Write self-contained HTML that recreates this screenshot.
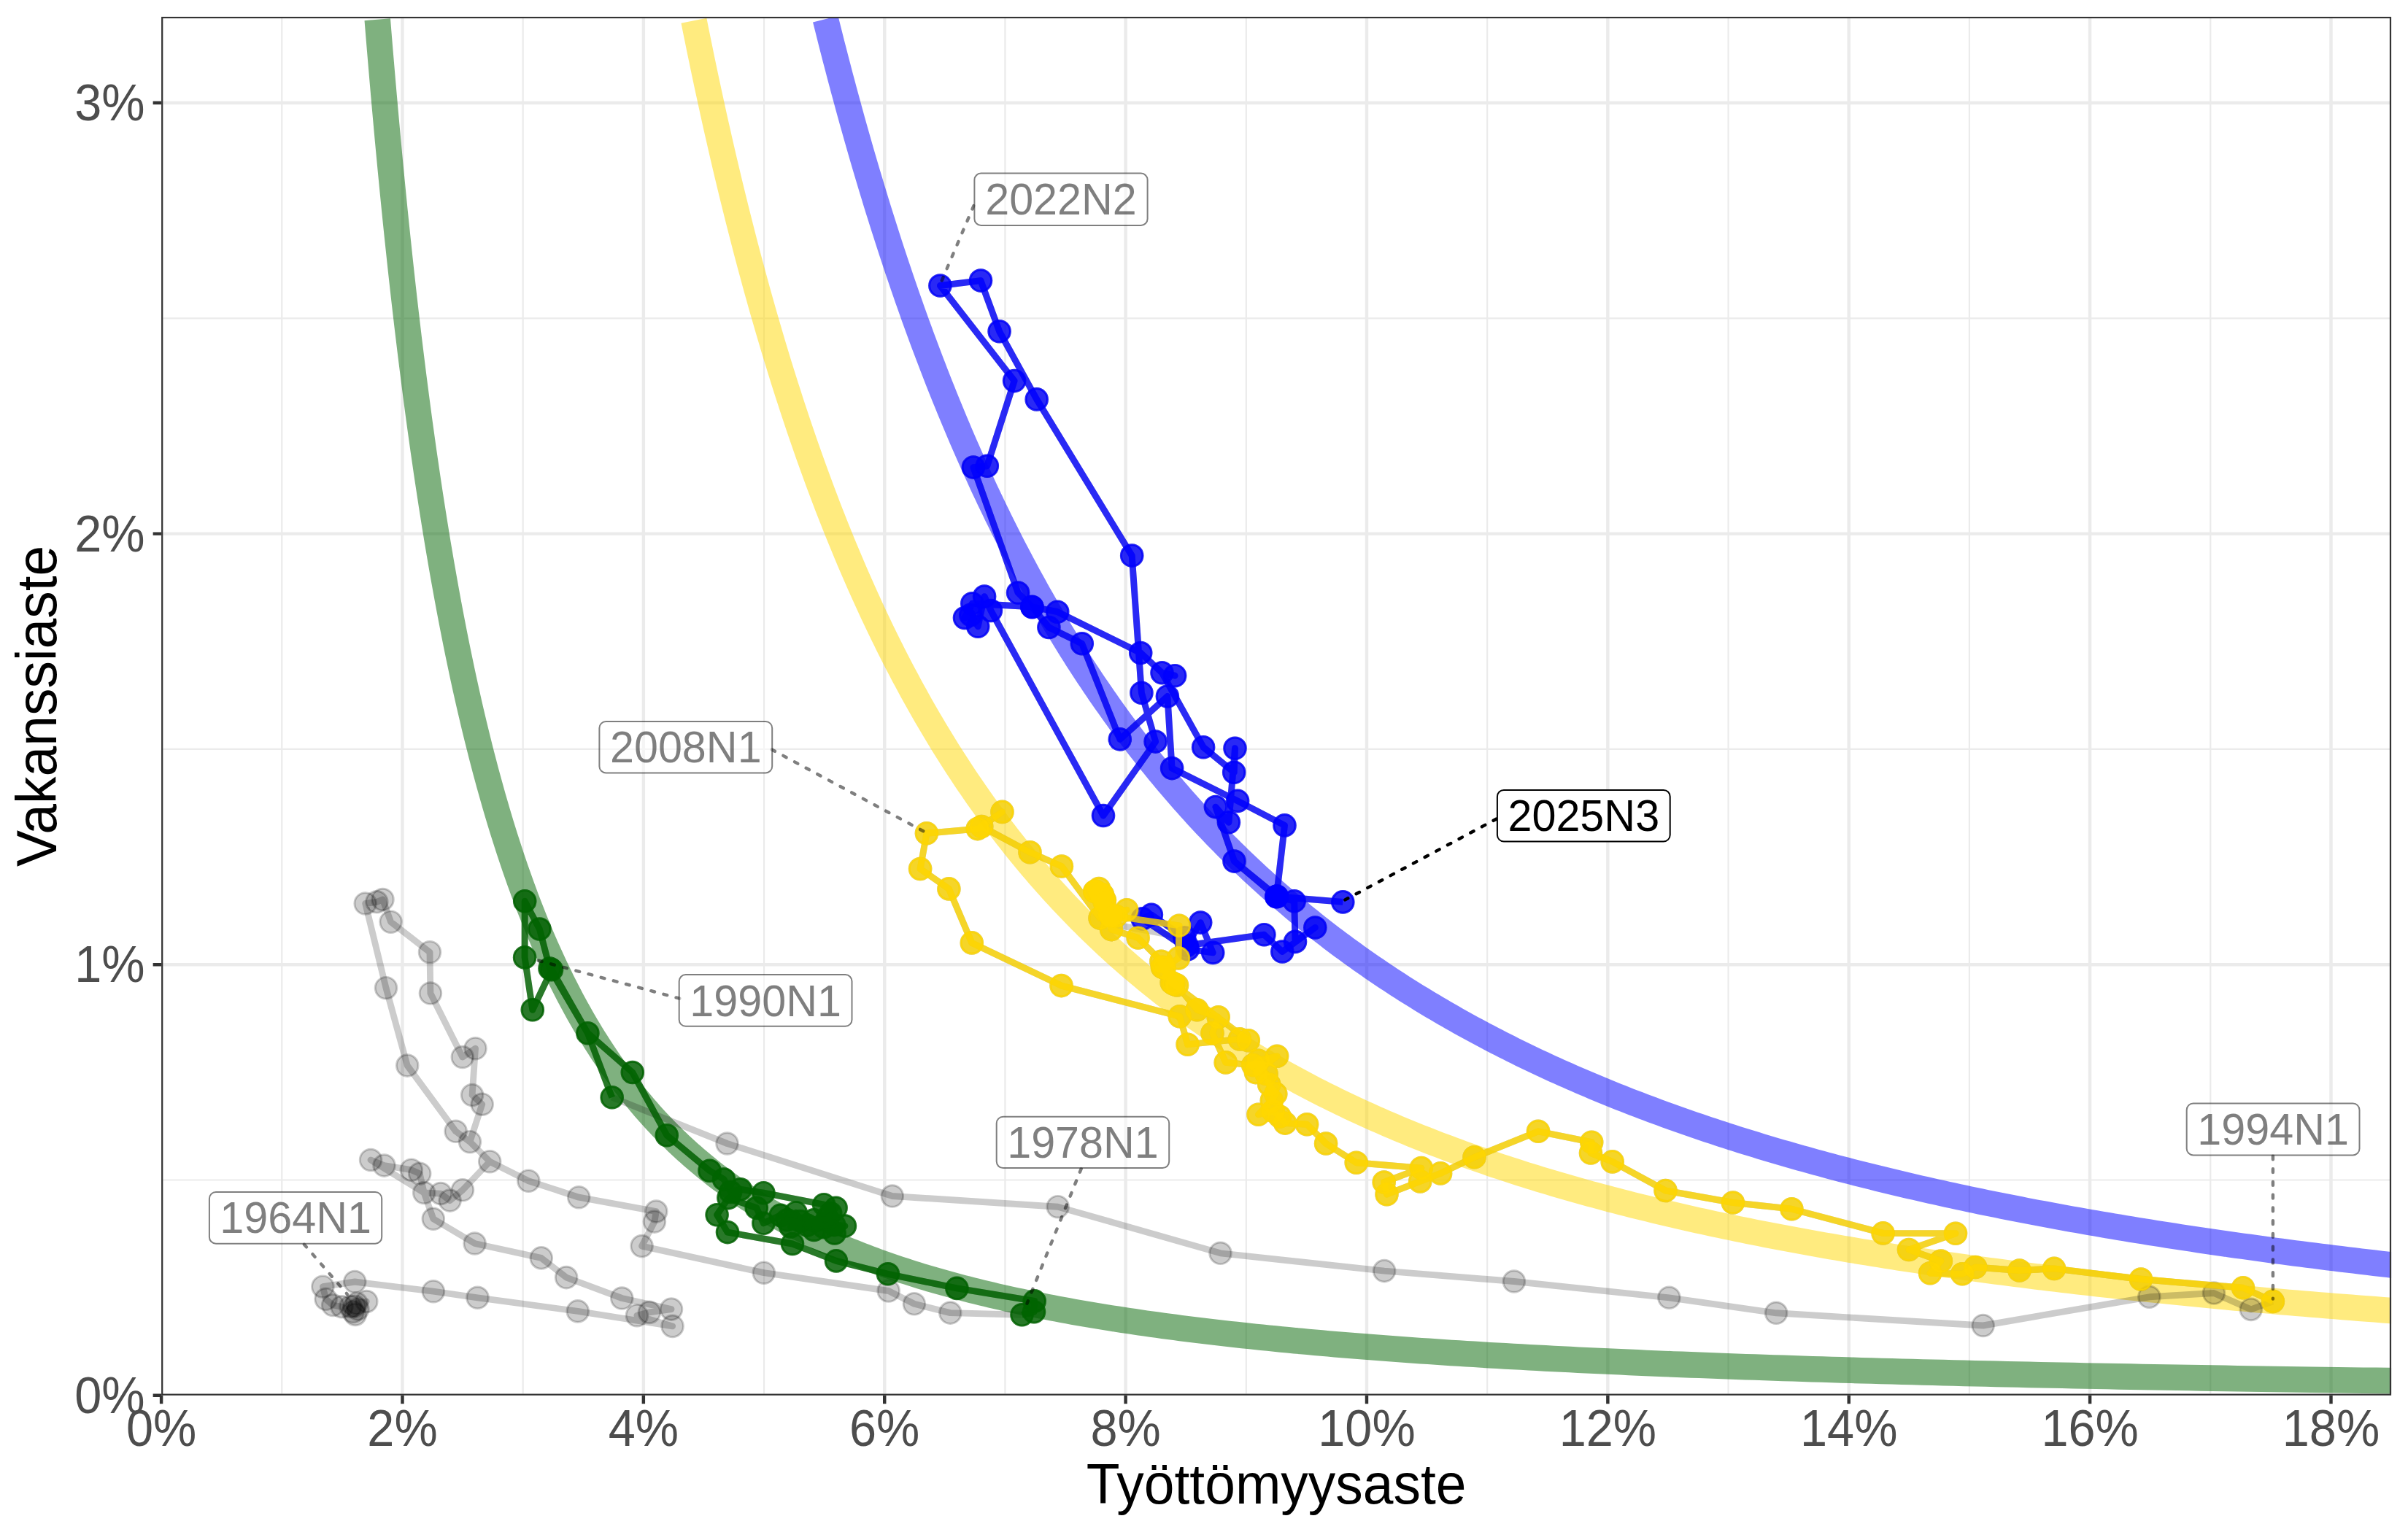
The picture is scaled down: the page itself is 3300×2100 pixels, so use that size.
<!DOCTYPE html>
<html lang="fi"><head><meta charset="utf-8"><title>Beveridge-käyrä</title>
<style>
html,body{margin:0;padding:0;background:#fff;}
body{width:3300px;height:2100px;overflow:hidden;}
svg{display:block;}
text{font-family:"Liberation Sans",sans-serif;}
.tick{font-size:66.67px;fill:#4D4D4D;}
.title{font-size:75px;fill:#000;}
.lab{font-size:59.3px;}
</style></head><body>
<svg width="3300" height="2100" viewBox="0 0 3300 2100">
<rect x="0" y="0" width="3300" height="2100" fill="#fff"/>
<defs><clipPath id="panel"><rect x="221.1" y="22.92" width="3055.98" height="1889.88"/></clipPath></defs>
<g clip-path="url(#panel)">
<path d="M221.1,1617.51 H3277.08 M221.1,1026.92 H3277.08 M221.1,436.33 H3277.08 M386.29,22.92 V1912.8 M716.66,22.92 V1912.8 M1047.04,22.92 V1912.8 M1377.42,22.92 V1912.8 M1707.79,22.92 V1912.8 M2038.17,22.92 V1912.8 M2368.55,22.92 V1912.8 M2698.92,22.92 V1912.8 M3029.30,22.92 V1912.8" stroke="#EBEBEB" stroke-width="2.22" fill="none"/>
<path d="M221.1,1912.80 H3277.08 M221.1,1322.21 H3277.08 M221.1,731.62 H3277.08 M221.1,141.04 H3277.08 M221.10,22.92 V1912.8 M551.48,22.92 V1912.8 M881.85,22.92 V1912.8 M1212.23,22.92 V1912.8 M1542.60,22.92 V1912.8 M1872.98,22.92 V1912.8 M2203.36,22.92 V1912.8 M2533.73,22.92 V1912.8 M2864.11,22.92 V1912.8 M3194.49,22.92 V1912.8" stroke="#EBEBEB" stroke-width="4.44" fill="none"/>
<path d="M517.25,26.76 L518.99,48.19 L520.75,69.38 L522.52,90.33 L524.29,111.05 L526.08,131.52 L527.88,151.77 L529.69,171.78 L531.50,191.57 L533.33,211.13 L535.17,230.47 L537.03,249.59 L538.89,268.49 L540.76,287.18 L542.64,305.65 L544.54,323.92 L546.45,341.97 L548.36,359.83 L550.29,377.48 L552.23,394.92 L554.18,412.17 L556.15,429.23 L558.12,446.09 L560.11,462.76 L562.11,479.24 L564.12,495.53 L566.14,511.64 L568.17,527.56 L570.22,543.30 L572.27,558.87 L574.34,574.26 L576.43,589.47 L578.52,604.51 L580.63,619.38 L582.75,634.07 L584.88,648.61 L587.02,662.97 L589.18,677.18 L591.35,691.22 L593.53,705.10 L595.73,718.83 L597.93,732.40 L600.15,745.81 L602.39,759.08 L604.64,772.19 L606.90,785.15 L609.17,797.97 L611.46,810.64 L613.76,823.16 L616.07,835.55 L618.40,847.79 L620.74,859.89 L623.10,871.86 L625.47,883.69 L627.85,895.38 L630.25,906.95 L632.66,918.38 L635.08,929.68 L637.52,940.85 L639.98,951.90 L642.45,962.82 L644.93,973.62 L647.43,984.29 L649.94,994.84 L652.47,1005.27 L655.01,1015.59 L657.57,1025.78 L660.14,1035.87 L662.73,1045.83 L665.33,1055.68 L667.95,1065.43 L670.58,1075.06 L673.23,1084.58 L675.90,1093.99 L678.58,1103.29 L681.27,1112.49 L683.99,1121.59 L686.71,1130.58 L689.46,1139.47 L692.22,1148.26 L695.00,1156.95 L697.79,1165.54 L700.60,1174.03 L703.42,1182.43 L706.27,1190.73 L709.13,1198.93 L712.00,1207.05 L714.90,1215.07 L717.81,1223.00 L720.73,1230.84 L723.68,1238.59 L726.64,1246.25 L729.62,1253.83 L732.62,1261.31 L735.63,1268.72 L738.67,1276.04 L741.72,1283.28 L744.78,1290.43 L747.87,1297.50 L750.98,1304.50 L754.10,1311.41 L757.24,1318.24 L760.40,1325.00 L763.58,1331.68 L766.78,1338.29 L769.99,1344.81 L773.23,1351.27 L776.48,1357.65 L779.75,1363.96 L783.05,1370.20 L786.36,1376.36 L789.69,1382.46 L793.04,1388.49 L796.41,1394.45 L799.80,1400.34 L803.21,1406.16 L806.65,1411.92 L810.10,1417.61 L813.57,1423.24 L817.06,1428.80 L820.57,1434.30 L824.11,1439.74 L827.66,1445.12 L831.23,1450.43 L834.83,1455.69 L838.45,1460.88 L842.09,1466.02 L845.75,1471.10 L849.43,1476.12 L853.13,1481.08 L856.86,1485.99 L860.60,1490.84 L864.37,1495.63 L868.16,1500.37 L871.98,1505.06 L875.81,1509.69 L879.67,1514.28 L883.55,1518.80 L887.46,1523.28 L891.39,1527.71 L895.34,1532.09 L899.31,1536.41 L903.31,1540.69 L907.33,1544.92 L911.37,1549.10 L915.44,1553.23 L919.53,1557.32 L923.65,1561.36 L927.79,1565.35 L931.96,1569.30 L936.15,1573.21 L940.36,1577.07 L944.60,1580.88 L948.86,1584.65 L953.15,1588.38 L957.47,1592.07 L961.81,1595.71 L966.17,1599.32 L970.56,1602.88 L974.98,1606.40 L979.43,1609.89 L983.89,1613.33 L988.39,1616.73 L992.91,1620.10 L997.46,1623.42 L1002.04,1626.71 L1006.64,1629.96 L1011.27,1633.18 L1015.93,1636.35 L1020.61,1639.50 L1025.32,1642.60 L1030.06,1645.67 L1034.83,1648.71 L1039.63,1651.71 L1044.45,1654.68 L1049.30,1657.61 L1054.19,1660.51 L1059.10,1663.38 L1064.04,1666.21 L1069.00,1669.02 L1074.00,1671.79 L1079.03,1674.53 L1084.08,1677.23 L1089.17,1679.91 L1094.29,1682.56 L1099.43,1685.17 L1104.61,1687.76 L1109.82,1690.32 L1115.06,1692.85 L1120.32,1695.35 L1125.62,1697.82 L1130.96,1700.26 L1136.32,1702.68 L1141.71,1705.06 L1147.14,1707.43 L1152.60,1709.76 L1158.09,1712.07 L1163.61,1714.35 L1169.16,1716.60 L1174.75,1718.83 L1180.37,1721.04 L1186.03,1723.22 L1191.71,1725.37 L1197.43,1727.50 L1203.19,1729.61 L1208.98,1731.69 L1214.80,1733.75 L1220.65,1735.78 L1226.55,1737.79 L1232.47,1739.78 L1238.43,1741.75 L1244.43,1743.69 L1250.46,1745.62 L1256.53,1747.52 L1262.63,1749.39 L1268.77,1751.25 L1274.94,1753.09 L1281.15,1754.90 L1287.40,1756.70 L1293.69,1758.47 L1300.01,1760.22 L1306.37,1761.96 L1312.76,1763.67 L1319.20,1765.37 L1325.67,1767.04 L1332.18,1768.70 L1338.73,1770.34 L1345.32,1771.96 L1351.94,1773.56 L1358.61,1775.14 L1365.31,1776.70 L1372.06,1778.25 L1378.84,1779.78 L1385.66,1781.29 L1392.53,1782.79 L1399.43,1784.26 L1406.38,1785.72 L1413.36,1787.17 L1420.39,1788.60 L1427.46,1790.01 L1434.57,1791.40 L1441.72,1792.78 L1448.91,1794.15 L1456.15,1795.50 L1463.43,1796.83 L1470.75,1798.15 L1478.12,1799.45 L1485.52,1800.74 L1492.98,1802.01 L1500.47,1803.27 L1508.01,1804.52 L1515.60,1805.75 L1523.23,1806.96 L1530.90,1808.17 L1538.62,1809.35 L1546.39,1810.53 L1554.20,1811.69 L1562.06,1812.84 L1569.96,1813.98 L1577.91,1815.10 L1585.91,1816.21 L1593.95,1817.31 L1602.04,1818.39 L1610.18,1819.47 L1618.37,1820.53 L1626.60,1821.58 L1634.89,1822.61 L1643.22,1823.64 L1651.60,1824.65 L1660.03,1825.65 L1668.51,1826.64 L1677.04,1827.62 L1685.62,1828.59 L1694.26,1829.55 L1702.94,1830.49 L1711.67,1831.43 L1720.46,1832.35 L1729.30,1833.27 L1738.18,1834.17 L1747.13,1835.07 L1756.12,1835.95 L1765.17,1836.82 L1774.27,1837.69 L1783.42,1838.54 L1792.63,1839.38 L1801.89,1840.22 L1811.21,1841.04 L1820.58,1841.86 L1830.01,1842.66 L1839.49,1843.46 L1849.03,1844.25 L1858.62,1845.03 L1868.28,1845.80 L1877.98,1846.56 L1887.75,1847.31 L1897.57,1848.06 L1907.45,1848.79 L1917.39,1849.52 L1927.39,1850.24 L1937.45,1850.95 L1947.56,1851.65 L1957.74,1852.35 L1967.97,1853.04 L1978.27,1853.72 L1988.63,1854.39 L1999.04,1855.05 L2009.52,1855.71 L2020.06,1856.36 L2030.67,1857.00 L2041.33,1857.63 L2052.06,1858.26 L2062.85,1858.88 L2073.71,1859.49 L2084.62,1860.10 L2095.61,1860.70 L2106.66,1861.29 L2117.77,1861.87 L2128.95,1862.45 L2140.19,1863.02 L2151.50,1863.59 L2162.88,1864.15 L2174.33,1864.70 L2185.84,1865.25 L2197.42,1865.79 L2209.07,1866.32 L2220.78,1866.85 L2232.57,1867.37 L2244.42,1867.89 L2256.35,1868.40 L2268.34,1868.91 L2280.41,1869.40 L2292.55,1869.90 L2304.76,1870.38 L2317.04,1870.87 L2329.39,1871.34 L2341.82,1871.81 L2354.32,1872.28 L2366.89,1872.74 L2379.53,1873.20 L2392.26,1873.65 L2405.05,1874.09 L2417.92,1874.53 L2430.87,1874.97 L2443.90,1875.40 L2457.00,1875.82 L2470.18,1876.24 L2483.43,1876.66 L2496.77,1877.07 L2510.18,1877.47 L2523.67,1877.88 L2537.24,1878.27 L2550.89,1878.66 L2564.62,1879.05 L2578.43,1879.44 L2592.33,1879.82 L2606.30,1880.19 L2620.36,1880.56 L2634.50,1880.93 L2648.73,1881.29 L2663.04,1881.65 L2677.43,1882.00 L2691.91,1882.35 L2706.47,1882.70 L2721.12,1883.04 L2735.85,1883.38 L2750.67,1883.71 L2765.58,1884.04 L2780.58,1884.37 L2795.66,1884.69 L2810.84,1885.01 L2826.10,1885.33 L2841.45,1885.64 L2856.90,1885.95 L2872.43,1886.25 L2888.06,1886.56 L2903.78,1886.85 L2919.59,1887.15 L2935.49,1887.44 L2951.49,1887.73 L2967.59,1888.01 L2983.77,1888.30 L3000.06,1888.57 L3016.43,1888.85 L3032.91,1889.12 L3049.48,1889.39 L3066.15,1889.66 L3082.92,1889.92 L3099.79,1890.18 L3116.75,1890.44 L3133.82,1890.69 L3150.99,1890.94 L3168.26,1891.19 L3185.63,1891.44 L3203.10,1891.68 L3220.67,1891.92 L3238.35,1892.16 L3256.14,1892.39 L3274.02,1892.62 L3292.02,1892.85 L3310.12,1893.08" fill="none" stroke="#006400" stroke-opacity="0.5" stroke-width="35.57" stroke-linejoin="round" stroke-linecap="butt"/>
<path d="M950.92,28.24 L953.56,41.44 L956.22,54.56 L958.88,67.58 L961.55,80.51 L964.23,93.36 L966.93,106.11 L969.63,118.77 L972.34,131.34 L975.06,143.83 L977.79,156.23 L980.53,168.54 L983.29,180.76 L986.05,192.90 L988.82,204.96 L991.60,216.93 L994.39,228.81 L997.19,240.61 L1000.00,252.33 L1002.82,263.97 L1005.66,275.53 L1008.50,287.00 L1011.35,298.40 L1014.21,309.71 L1017.09,320.95 L1019.97,332.10 L1022.86,343.18 L1025.77,354.18 L1028.68,365.11 L1031.61,375.95 L1034.55,386.72 L1037.49,397.42 L1040.45,408.04 L1043.42,418.59 L1046.40,429.06 L1049.39,439.46 L1052.39,449.78 L1055.40,460.04 L1058.42,470.22 L1061.45,480.33 L1064.50,490.37 L1067.55,500.34 L1070.62,510.24 L1073.70,520.07 L1076.79,529.83 L1079.89,539.52 L1083.00,549.15 L1086.12,558.70 L1089.25,568.19 L1092.40,577.62 L1095.55,586.98 L1098.72,596.27 L1101.90,605.50 L1105.09,614.66 L1108.29,623.76 L1111.51,632.79 L1114.73,641.76 L1117.97,650.67 L1121.22,659.51 L1124.48,668.30 L1127.75,677.02 L1131.04,685.68 L1134.33,694.28 L1137.64,702.82 L1140.96,711.30 L1144.30,719.72 L1147.64,728.09 L1151.00,736.39 L1154.37,744.63 L1157.75,752.82 L1161.14,760.95 L1164.54,769.02 L1167.96,777.04 L1171.39,785.00 L1174.84,792.90 L1178.29,800.75 L1181.76,808.55 L1185.24,816.29 L1188.73,823.97 L1192.24,831.60 L1195.75,839.18 L1199.28,846.70 L1202.83,854.18 L1206.38,861.60 L1209.95,868.96 L1213.54,876.28 L1217.13,883.54 L1220.74,890.76 L1224.36,897.92 L1228.00,905.03 L1231.64,912.10 L1235.30,919.11 L1238.98,926.07 L1242.67,932.99 L1246.37,939.86 L1250.08,946.68 L1253.81,953.45 L1257.55,960.17 L1261.30,966.85 L1265.07,973.48 L1268.85,980.06 L1272.65,986.60 L1276.46,993.09 L1280.28,999.53 L1284.12,1005.93 L1287.97,1012.29 L1291.83,1018.60 L1295.71,1024.87 L1299.61,1031.09 L1303.51,1037.27 L1307.43,1043.41 L1311.37,1049.50 L1315.32,1055.55 L1319.28,1061.56 L1323.26,1067.53 L1327.25,1073.45 L1331.26,1079.33 L1335.28,1085.17 L1339.32,1090.97 L1343.37,1096.73 L1347.44,1102.45 L1351.52,1108.13 L1355.61,1113.77 L1359.72,1119.37 L1363.85,1124.93 L1367.99,1130.46 L1372.14,1135.94 L1376.31,1141.38 L1380.50,1146.79 L1384.70,1152.16 L1388.91,1157.49 L1393.14,1162.78 L1397.39,1168.04 L1401.65,1173.26 L1405.92,1178.44 L1410.22,1183.59 L1414.52,1188.70 L1418.85,1193.77 L1423.19,1198.81 L1427.54,1203.82 L1431.91,1208.79 L1436.30,1213.72 L1440.70,1218.62 L1445.12,1223.49 L1449.55,1228.32 L1454.00,1233.11 L1458.47,1237.88 L1462.95,1242.61 L1467.45,1247.31 L1471.97,1251.97 L1476.50,1256.60 L1481.04,1261.20 L1485.61,1265.77 L1490.19,1270.30 L1494.79,1274.80 L1499.40,1279.28 L1504.03,1283.72 L1508.68,1288.13 L1513.34,1292.50 L1518.03,1296.85 L1522.72,1301.17 L1527.44,1305.45 L1532.17,1309.71 L1536.92,1313.94 L1541.69,1318.13 L1546.47,1322.30 L1551.27,1326.44 L1556.09,1330.55 L1560.93,1334.63 L1565.78,1338.68 L1570.65,1342.71 L1575.54,1346.70 L1580.45,1350.67 L1585.37,1354.61 L1590.32,1358.52 L1595.28,1362.41 L1600.25,1366.26 L1605.25,1370.09 L1610.26,1373.90 L1615.30,1377.68 L1620.35,1381.43 L1625.42,1385.15 L1630.50,1388.85 L1635.61,1392.52 L1640.73,1396.17 L1645.88,1399.79 L1651.04,1403.38 L1656.22,1406.95 L1661.42,1410.50 L1666.63,1414.02 L1671.87,1417.51 L1677.13,1420.99 L1682.40,1424.43 L1687.69,1427.86 L1693.01,1431.25 L1698.34,1434.63 L1703.69,1437.98 L1709.06,1441.31 L1714.45,1444.61 L1719.86,1447.89 L1725.29,1451.15 L1730.74,1454.39 L1736.21,1457.60 L1741.70,1460.79 L1747.21,1463.96 L1752.73,1467.10 L1758.28,1470.23 L1763.85,1473.33 L1769.44,1476.41 L1775.05,1479.47 L1780.68,1482.51 L1786.33,1485.52 L1792.00,1488.52 L1797.69,1491.49 L1803.40,1494.44 L1809.13,1497.37 L1814.89,1500.29 L1820.66,1503.18 L1826.45,1506.05 L1832.27,1508.90 L1838.11,1511.73 L1843.96,1514.54 L1849.84,1517.33 L1855.74,1520.10 L1861.67,1522.86 L1867.61,1525.59 L1873.57,1528.30 L1879.56,1531.00 L1885.57,1533.67 L1891.60,1536.33 L1897.65,1538.97 L1903.72,1541.59 L1909.82,1544.19 L1915.94,1546.77 L1922.08,1549.34 L1928.24,1551.89 L1934.42,1554.42 L1940.63,1556.93 L1946.86,1559.42 L1953.11,1561.90 L1959.38,1564.36 L1965.68,1566.80 L1972.00,1569.23 L1978.34,1571.63 L1984.71,1574.02 L1991.10,1576.40 L1997.51,1578.76 L2003.95,1581.10 L2010.40,1583.42 L2016.89,1585.73 L2023.39,1588.02 L2029.92,1590.30 L2036.47,1592.56 L2043.05,1594.80 L2049.65,1597.03 L2056.27,1599.25 L2062.92,1601.44 L2069.59,1603.63 L2076.29,1605.79 L2083.01,1607.94 L2089.76,1610.08 L2096.53,1612.20 L2103.32,1614.31 L2110.14,1616.40 L2116.98,1618.48 L2123.85,1620.54 L2130.74,1622.59 L2137.66,1624.62 L2144.60,1626.64 L2151.57,1628.65 L2158.56,1630.64 L2165.58,1632.62 L2172.63,1634.58 L2179.70,1636.53 L2186.79,1638.47 L2193.91,1640.39 L2201.06,1642.30 L2208.23,1644.20 L2215.43,1646.08 L2222.66,1647.95 L2229.91,1649.80 L2237.18,1651.65 L2244.49,1653.48 L2251.82,1655.29 L2259.17,1657.10 L2266.56,1658.89 L2273.97,1660.67 L2281.40,1662.44 L2288.87,1664.19 L2296.36,1665.93 L2303.88,1667.67 L2311.42,1669.38 L2318.99,1671.09 L2326.59,1672.78 L2334.22,1674.47 L2341.88,1676.14 L2349.56,1677.79 L2357.27,1679.44 L2365.01,1681.08 L2372.77,1682.70 L2380.57,1684.31 L2388.39,1685.92 L2396.24,1687.51 L2404.12,1689.08 L2412.03,1690.65 L2419.97,1692.21 L2427.93,1693.76 L2435.93,1695.29 L2443.95,1696.81 L2452.00,1698.33 L2460.09,1699.83 L2468.20,1701.32 L2476.34,1702.81 L2484.51,1704.28 L2492.71,1705.74 L2500.94,1707.19 L2509.19,1708.63 L2517.48,1710.06 L2525.80,1711.48 L2534.15,1712.89 L2542.53,1714.30 L2550.94,1715.69 L2559.38,1717.07 L2567.85,1718.44 L2576.35,1719.80 L2584.88,1721.16 L2593.45,1722.50 L2602.04,1723.83 L2610.67,1725.16 L2619.32,1726.47 L2628.01,1727.78 L2636.73,1729.07 L2645.48,1730.36 L2654.26,1731.64 L2663.08,1732.91 L2671.93,1734.17 L2680.80,1735.42 L2689.71,1736.67 L2698.66,1737.90 L2707.63,1739.13 L2716.64,1740.34 L2725.68,1741.55 L2734.75,1742.75 L2743.86,1743.94 L2753.00,1745.13 L2762.17,1746.30 L2771.38,1747.47 L2780.61,1748.63 L2789.89,1749.78 L2799.19,1750.92 L2808.53,1752.06 L2817.90,1753.18 L2827.31,1754.30 L2836.75,1755.41 L2846.23,1756.52 L2855.74,1757.61 L2865.28,1758.70 L2874.86,1759.78 L2884.48,1760.85 L2894.12,1761.92 L2903.81,1762.97 L2913.53,1764.02 L2923.28,1765.07 L2933.07,1766.10 L2942.89,1767.13 L2952.75,1768.15 L2962.65,1769.16 L2972.58,1770.17 L2982.55,1771.17 L2992.55,1772.16 L3002.59,1773.15 L3012.67,1774.13 L3022.78,1775.10 L3032.93,1776.06 L3043.12,1777.02 L3053.34,1777.97 L3063.60,1778.92 L3073.90,1779.86 L3084.23,1780.79 L3094.60,1781.71 L3105.01,1782.63 L3115.46,1783.55 L3125.94,1784.45 L3136.47,1785.35 L3147.03,1786.24 L3157.63,1787.13 L3168.27,1788.01 L3178.94,1788.89 L3189.66,1789.76 L3200.41,1790.62 L3211.20,1791.47 L3222.04,1792.32 L3232.91,1793.17 L3243.82,1794.01 L3254.77,1794.84 L3265.76,1795.67 L3276.79,1796.49 L3287.86,1797.30 L3298.97,1798.11 L3310.12,1798.92" fill="none" stroke="#FFD700" stroke-opacity="0.5" stroke-width="35.57" stroke-linejoin="round" stroke-linecap="butt"/>
<path d="M1131.29,26.11 L1134.08,37.31 L1136.88,48.45 L1139.69,59.52 L1142.51,70.53 L1145.34,81.47 L1148.17,92.35 L1151.01,103.16 L1153.87,113.91 L1156.73,124.59 L1159.60,135.21 L1162.48,145.77 L1165.36,156.26 L1168.26,166.69 L1171.16,177.06 L1174.08,187.37 L1177.00,197.62 L1179.93,207.81 L1182.87,217.93 L1185.82,228.00 L1188.78,238.00 L1191.75,247.95 L1194.73,257.84 L1197.72,267.67 L1200.71,277.44 L1203.72,287.15 L1206.73,296.80 L1209.75,306.40 L1212.79,315.94 L1215.83,325.42 L1218.88,334.85 L1221.94,344.22 L1225.01,353.54 L1228.09,362.80 L1231.18,372.00 L1234.27,381.16 L1237.38,390.25 L1240.50,399.29 L1243.63,408.28 L1246.76,417.22 L1249.91,426.10 L1253.06,434.93 L1256.23,443.71 L1259.40,452.43 L1262.59,461.10 L1265.78,469.73 L1268.99,478.30 L1272.20,486.82 L1275.43,495.28 L1278.66,503.70 L1281.90,512.07 L1285.16,520.39 L1288.42,528.66 L1291.69,536.88 L1294.98,545.05 L1298.27,553.17 L1301.58,561.25 L1304.89,569.28 L1308.21,577.26 L1311.55,585.19 L1314.89,593.07 L1318.25,600.91 L1321.61,608.70 L1324.99,616.45 L1328.37,624.14 L1331.77,631.80 L1335.18,639.41 L1338.60,646.97 L1342.02,654.49 L1345.46,661.96 L1348.91,669.39 L1352.37,676.77 L1355.84,684.11 L1359.32,691.41 L1362.81,698.66 L1366.31,705.87 L1369.82,713.04 L1373.35,720.17 L1376.88,727.25 L1380.43,734.29 L1383.98,741.29 L1387.55,748.25 L1391.13,755.16 L1394.72,762.04 L1398.32,768.87 L1401.93,775.67 L1405.55,782.42 L1409.18,789.13 L1412.83,795.81 L1416.48,802.44 L1420.15,809.04 L1423.83,815.59 L1427.51,822.11 L1431.22,828.58 L1434.93,835.02 L1438.65,841.42 L1442.38,847.79 L1446.13,854.11 L1449.89,860.40 L1453.66,866.65 L1457.44,872.86 L1461.23,879.04 L1465.03,885.18 L1468.85,891.28 L1472.68,897.35 L1476.51,903.38 L1480.37,909.37 L1484.23,915.33 L1488.10,921.26 L1491.99,927.15 L1495.89,933.00 L1499.80,938.82 L1503.72,944.60 L1507.65,950.35 L1511.60,956.07 L1515.56,961.75 L1519.53,967.40 L1523.51,973.01 L1527.51,978.59 L1531.51,984.14 L1535.53,989.66 L1539.56,995.14 L1543.61,1000.59 L1547.66,1006.01 L1551.73,1011.39 L1555.81,1016.75 L1559.91,1022.07 L1564.01,1027.36 L1568.13,1032.62 L1572.26,1037.84 L1576.41,1043.04 L1580.57,1048.21 L1584.74,1053.34 L1588.92,1058.45 L1593.11,1063.52 L1597.32,1068.56 L1601.54,1073.58 L1605.78,1078.56 L1610.02,1083.52 L1614.29,1088.44 L1618.56,1093.34 L1622.84,1098.20 L1627.14,1103.04 L1631.46,1107.85 L1635.78,1112.63 L1640.12,1117.38 L1644.47,1122.11 L1648.84,1126.80 L1653.22,1131.47 L1657.61,1136.11 L1662.02,1140.72 L1666.44,1145.31 L1670.87,1149.87 L1675.32,1154.40 L1679.78,1158.90 L1684.25,1163.38 L1688.74,1167.83 L1693.24,1172.25 L1697.76,1176.65 L1702.29,1181.02 L1706.83,1185.37 L1711.39,1189.69 L1715.96,1193.99 L1720.54,1198.25 L1725.14,1202.50 L1729.76,1206.72 L1734.38,1210.91 L1739.02,1215.08 L1743.68,1219.22 L1748.35,1223.34 L1753.03,1227.44 L1757.73,1231.51 L1762.45,1235.55 L1767.17,1239.57 L1771.92,1243.57 L1776.67,1247.55 L1781.44,1251.50 L1786.23,1255.43 L1791.03,1259.33 L1795.85,1263.21 L1800.68,1267.07 L1805.52,1270.90 L1810.38,1274.72 L1815.26,1278.50 L1820.15,1282.27 L1825.05,1286.02 L1829.97,1289.74 L1834.90,1293.44 L1839.85,1297.12 L1844.82,1300.77 L1849.80,1304.41 L1854.80,1308.02 L1859.81,1311.61 L1864.83,1315.18 L1869.87,1318.73 L1874.93,1322.26 L1880.00,1325.77 L1885.09,1329.26 L1890.20,1332.72 L1895.32,1336.17 L1900.45,1339.59 L1905.60,1342.99 L1910.77,1346.38 L1915.95,1349.74 L1921.15,1353.09 L1926.36,1356.41 L1931.59,1359.72 L1936.84,1363.00 L1942.10,1366.27 L1947.38,1369.51 L1952.68,1372.74 L1957.99,1375.94 L1963.32,1379.13 L1968.66,1382.30 L1974.02,1385.45 L1979.40,1388.59 L1984.79,1391.70 L1990.20,1394.79 L1995.63,1397.87 L2001.07,1400.93 L2006.53,1403.97 L2012.00,1406.99 L2017.50,1409.99 L2023.01,1412.98 L2028.53,1415.95 L2034.08,1418.90 L2039.64,1421.83 L2045.22,1424.75 L2050.81,1427.65 L2056.42,1430.53 L2062.05,1433.39 L2067.70,1436.24 L2073.36,1439.07 L2079.05,1441.88 L2084.74,1444.68 L2090.46,1447.46 L2096.19,1450.22 L2101.95,1452.97 L2107.71,1455.70 L2113.50,1458.42 L2119.31,1461.11 L2125.13,1463.80 L2130.97,1466.46 L2136.83,1469.11 L2142.70,1471.75 L2148.60,1474.37 L2154.51,1476.97 L2160.44,1479.56 L2166.39,1482.13 L2172.35,1484.69 L2178.34,1487.23 L2184.34,1489.76 L2190.36,1492.27 L2196.40,1494.77 L2202.46,1497.25 L2208.54,1499.72 L2214.64,1502.18 L2220.75,1504.61 L2226.88,1507.04 L2233.04,1509.45 L2239.21,1511.84 L2245.40,1514.22 L2251.61,1516.59 L2257.83,1518.94 L2264.08,1521.28 L2270.35,1523.61 L2276.63,1525.92 L2282.94,1528.22 L2289.26,1530.50 L2295.61,1532.77 L2301.97,1535.03 L2308.35,1537.27 L2314.75,1539.50 L2321.17,1541.72 L2327.62,1543.92 L2334.08,1546.11 L2340.56,1548.29 L2347.06,1550.46 L2353.58,1552.61 L2360.12,1554.75 L2366.68,1556.88 L2373.26,1558.99 L2379.86,1561.09 L2386.49,1563.18 L2393.13,1565.26 L2399.79,1567.32 L2406.47,1569.37 L2413.17,1571.41 L2419.90,1573.44 L2426.64,1575.45 L2433.41,1577.46 L2440.19,1579.45 L2447.00,1581.43 L2453.83,1583.40 L2460.68,1585.35 L2467.54,1587.30 L2474.44,1589.23 L2481.35,1591.15 L2488.28,1593.06 L2495.23,1594.96 L2502.21,1596.85 L2509.21,1598.73 L2516.22,1600.59 L2523.26,1602.44 L2530.32,1604.29 L2537.41,1606.12 L2544.51,1607.94 L2551.64,1609.75 L2558.79,1611.55 L2565.96,1613.34 L2573.15,1615.12 L2580.36,1616.89 L2587.60,1618.64 L2594.86,1620.39 L2602.14,1622.13 L2609.44,1623.85 L2616.77,1625.57 L2624.12,1627.28 L2631.49,1628.97 L2638.88,1630.66 L2646.30,1632.33 L2653.73,1634.00 L2661.20,1635.65 L2668.68,1637.30 L2676.19,1638.94 L2683.72,1640.56 L2691.27,1642.18 L2698.85,1643.79 L2706.45,1645.39 L2714.07,1646.97 L2721.72,1648.55 L2729.39,1650.12 L2737.08,1651.68 L2744.80,1653.23 L2752.54,1654.77 L2760.30,1656.31 L2768.09,1657.83 L2775.90,1659.34 L2783.74,1660.85 L2791.60,1662.35 L2799.48,1663.83 L2807.39,1665.31 L2815.33,1666.78 L2823.28,1668.24 L2831.26,1669.69 L2839.27,1671.14 L2847.30,1672.57 L2855.36,1674.00 L2863.44,1675.42 L2871.54,1676.83 L2879.67,1678.23 L2887.83,1679.62 L2896.00,1681.01 L2904.21,1682.38 L2912.44,1683.75 L2920.69,1685.11 L2928.97,1686.47 L2937.28,1687.81 L2945.61,1689.15 L2953.97,1690.47 L2962.35,1691.79 L2970.76,1693.11 L2979.19,1694.41 L2987.65,1695.71 L2996.14,1697.00 L3004.65,1698.28 L3013.19,1699.55 L3021.75,1700.82 L3030.34,1702.08 L3038.96,1703.33 L3047.60,1704.57 L3056.27,1705.81 L3064.97,1707.04 L3073.69,1708.26 L3082.44,1709.48 L3091.22,1710.68 L3100.02,1711.88 L3108.85,1713.08 L3117.71,1714.26 L3126.59,1715.44 L3135.50,1716.62 L3144.44,1717.78 L3153.41,1718.94 L3162.40,1720.09 L3171.42,1721.23 L3180.47,1722.37 L3189.55,1723.50 L3198.66,1724.63 L3207.79,1725.74 L3216.95,1726.86 L3226.14,1727.96 L3235.36,1729.06 L3244.60,1730.15 L3253.87,1731.23 L3263.18,1732.31 L3272.51,1733.38 L3281.87,1734.45 L3291.25,1735.51 L3300.67,1736.56 L3310.12,1737.61" fill="none" stroke="#0000FF" stroke-opacity="0.5" stroke-width="35.57" stroke-linejoin="round" stroke-linecap="butt"/>
<path d="M485.9,1790.4 L490.5,1794.6 L484.0,1798.2 L480.3,1791.0 L488.7,1786.6 L502.3,1784.0 L486.9,1801.9 L468.5,1791.3 L456.2,1789.0 L446.6,1780.8 L442.4,1763.7 L486.3,1757.0 L593.9,1770.2 L654.5,1778.8 L791.8,1797.4 L921.6,1817.9 L872.9,1803.2 L889.9,1798.9 L920.0,1794.6 L852.3,1779.5 L776.1,1751.1 L741.8,1724.4 L650.6,1704.5 L593.8,1670.8 L581.2,1635.0 L575.2,1608.8 L563.8,1603.7 L526.5,1597.6 L508.1,1590.0 L581.2,1635.0 L603.9,1636.1 L616.6,1645.6 L634.0,1631.3 L671.2,1592.2 L644.0,1565.2 L660.7,1513.7 L647.1,1501.1 L651.5,1437.2 L633.8,1449.0 L589.9,1361.5 L589.0,1305.2 L535.6,1263.7 L524.5,1233.0 L516.4,1236.3 L500.7,1238.5 L529.0,1354.2 L558.2,1460.6 L624.6,1550.8 L644.0,1565.2 L671.2,1592.2 L724.3,1618.7 L793.2,1641.2 L899.3,1660.6 L896.9,1674.6 L879.6,1708.1 L1046.8,1744.7 L1217.7,1769.5 L1252.9,1787.3 L1302.3,1799.6 L1400.5,1802.3" fill="none" stroke="#000000" stroke-opacity="0.2" stroke-width="8.89" stroke-linejoin="round" stroke-linecap="butt"/>
<path d="M1400.5,1802.3 L1417.0,1798.2 L1417.7,1783.4 L1311.4,1765.9 L1216.9,1746.3 L1146.0,1728.4 L1086.0,1705.0 L997.0,1689.1 L982.6,1665.3 L998.4,1642.1 L1036.8,1655.8 L1046.4,1676.8 L1069.7,1665.9 L1078.8,1672.3 L1090.7,1662.2 L1097.1,1674.1 L1083.4,1681.4 L1106.2,1679.6 L1115.4,1686.0 L1129.1,1682.3 L1143.7,1690.5 L1157.9,1680.5 L1143.2,1679.0 L1133.7,1670.4 L1115.4,1672.3 L1138.2,1663.1 L1145.6,1655.8 L1129.1,1651.2 L1046.4,1635.2 L1014.8,1630.2 L1001.1,1633.9 L992.0,1616.5 L972.5,1604.8 L913.8,1556.2 L866.8,1470.0 L805.4,1416.2 L753.5,1327.6 L739.4,1273.5 L719.2,1235.2 L719.1,1312.4 L729.8,1384.3 L756.0,1329.2 L805.4,1416.2 L838.7,1504.2" fill="none" stroke="#000000" stroke-opacity="0.2" stroke-width="8.89" stroke-linejoin="round" stroke-linecap="butt"/>
<path d="M838.7,1504.2 L996.5,1567.5 L1222.8,1639.5 L1449.7,1654.2 L1672.5,1717.8 L1897.1,1742.1 L2074.9,1756.5 L2287.4,1778.8 L2434.1,1799.8 L2717.7,1817.0 L2945.4,1777.8 L3034.0,1772.5 L3084.8,1794.9 L3114.9,1783.9" fill="none" stroke="#000000" stroke-opacity="0.2" stroke-width="8.89" stroke-linejoin="round" stroke-linecap="butt"/>
<path d="M3114.9,1783.9 L3074.0,1765.2 L2934.0,1753.5 L2815.1,1738.9 L2767.5,1741.5 L2707.2,1737.0 L2689.2,1746.3 L2645.1,1745.2 L2659.9,1728.5 L2616.0,1713.0 L2680.0,1690.8 L2580.6,1690.4 L2455.4,1657.2 L2374.9,1648.5 L2282.5,1632.0 L2209.7,1592.4 L2180.0,1580.5 L2181.2,1565.7 L2108.0,1550.8 L2020.5,1586.3 L1974.1,1608.4 L1946.2,1619.4 L1900.5,1637.2 L1896.7,1620.5 L1947.8,1601.1 L1858.7,1593.8 L1817.1,1567.5 L1791.1,1541.3 L1761.1,1539.6 L1753.8,1530.5 L1744.6,1523.1 L1724.5,1527.7 L1742.8,1508.5 L1748.3,1499.4 L1739.2,1486.6 L1735.5,1472.0 L1720.9,1470.1 L1750.1,1447.8 L1724.5,1453.7 L1717.2,1460.1 L1679.7,1456.4 L1661.5,1416.2 L1669.7,1394.3 L1640.4,1384.2 L1613.0,1350.4 L1605.7,1346.7 L1592.9,1325.7 L1591.4,1317.7 L1559.6,1285.5 L1523.0,1274.1 L1513.9,1233.9 L1511.1,1226.6 L1506.0,1218.0 L1501.5,1221.7 L1507.5,1258.6 L1454.9,1187.5 L1411.5,1168.3 L1345.2,1133.0 L1373.5,1112.9 L1339.7,1136.1 L1269.9,1142.2 L1261.1,1191.0 L1300.4,1218.4 L1331.8,1292.4 L1454.5,1351.1 L1616.7,1393.3 L1627.6,1431.7 L1698.9,1424.4 L1710.8,1426.3 L1608.4,1348.7 L1595.6,1326.8 L1615.0,1313.4 L1616.0,1268.8 L1529.4,1255.8 L1544.2,1247.2 L1521.2,1254.0 L1509.7,1226.3 L1500.2,1222.0 L1513.4,1235.4 L1522.5,1255.5" fill="none" stroke="#000000" stroke-opacity="0.2" stroke-width="8.89" stroke-linejoin="round" stroke-linecap="butt"/>
<path d="M1515.0,1265.0 L1623.2,1285.2" fill="none" stroke="#000000" stroke-opacity="0.2" stroke-width="8.89" stroke-linejoin="round" stroke-linecap="butt"/>
<path d="M1623.2,1285.2 L1577.9,1253.9 L1565.7,1259.4 L1627.9,1301.2 L1662.2,1305.9 L1645.2,1264.6 L1626.5,1296.0 L1732.4,1281.2 L1757.3,1304.5 L1802.3,1271.5 L1775.0,1290.9 L1773.7,1235.2 L1749.9,1228.5 L1691.5,1180.6 L1749.3,1229.3 L1760.5,1131.4 L1696.1,1097.9 L1606.1,1053.1 L1599.9,954.5 L1534.8,1013.4 L1482.8,882.3 L1437.4,860.0 L1414.5,832.2 L1395.1,812.5 L1333.9,640.6 L1352.8,638.8 L1390.1,522.1 L1288.4,391.5 L1344.0,384.6 L1369.6,454.3 L1420.7,547.4 L1551.2,761.6 L1564.4,949.8 L1583.6,1016.6 L1512.0,1118.0 L1357.9,837.0 L1349.1,817.6 L1340.2,858.7 L1330.3,842.9 L1322.0,847.0 L1332.3,827.3 L1414.3,831.8 L1449.2,838.7 L1563.2,895.0 L1592.5,922.3 L1610.1,926.2 L1592.5,922.3 L1649.1,1024.2 L1691.2,1058.7 L1692.5,1025.8 L1683.9,1127.3 L1665.9,1106.1 L1691.5,1180.6 L1749.5,1228.9 L1840.3,1236.4" fill="none" stroke="#000000" stroke-opacity="0.2" stroke-width="8.89" stroke-linejoin="round" stroke-linecap="butt"/>
<circle cx="485.9" cy="1790.4" r="14.81" fill="#000000" fill-opacity="0.2" stroke="#000000" stroke-opacity="0.2" stroke-width="2.95"/>
<circle cx="490.5" cy="1794.6" r="14.81" fill="#000000" fill-opacity="0.2" stroke="#000000" stroke-opacity="0.2" stroke-width="2.95"/>
<circle cx="484.0" cy="1798.2" r="14.81" fill="#000000" fill-opacity="0.2" stroke="#000000" stroke-opacity="0.2" stroke-width="2.95"/>
<circle cx="480.3" cy="1791.0" r="14.81" fill="#000000" fill-opacity="0.2" stroke="#000000" stroke-opacity="0.2" stroke-width="2.95"/>
<circle cx="488.7" cy="1786.6" r="14.81" fill="#000000" fill-opacity="0.2" stroke="#000000" stroke-opacity="0.2" stroke-width="2.95"/>
<circle cx="502.3" cy="1784.0" r="14.81" fill="#000000" fill-opacity="0.2" stroke="#000000" stroke-opacity="0.2" stroke-width="2.95"/>
<circle cx="486.9" cy="1801.9" r="14.81" fill="#000000" fill-opacity="0.2" stroke="#000000" stroke-opacity="0.2" stroke-width="2.95"/>
<circle cx="468.5" cy="1791.3" r="14.81" fill="#000000" fill-opacity="0.2" stroke="#000000" stroke-opacity="0.2" stroke-width="2.95"/>
<circle cx="456.2" cy="1789.0" r="14.81" fill="#000000" fill-opacity="0.2" stroke="#000000" stroke-opacity="0.2" stroke-width="2.95"/>
<circle cx="446.6" cy="1780.8" r="14.81" fill="#000000" fill-opacity="0.2" stroke="#000000" stroke-opacity="0.2" stroke-width="2.95"/>
<circle cx="442.4" cy="1763.7" r="14.81" fill="#000000" fill-opacity="0.2" stroke="#000000" stroke-opacity="0.2" stroke-width="2.95"/>
<circle cx="486.3" cy="1757.0" r="14.81" fill="#000000" fill-opacity="0.2" stroke="#000000" stroke-opacity="0.2" stroke-width="2.95"/>
<circle cx="593.9" cy="1770.2" r="14.81" fill="#000000" fill-opacity="0.2" stroke="#000000" stroke-opacity="0.2" stroke-width="2.95"/>
<circle cx="654.5" cy="1778.8" r="14.81" fill="#000000" fill-opacity="0.2" stroke="#000000" stroke-opacity="0.2" stroke-width="2.95"/>
<circle cx="791.8" cy="1797.4" r="14.81" fill="#000000" fill-opacity="0.2" stroke="#000000" stroke-opacity="0.2" stroke-width="2.95"/>
<circle cx="921.6" cy="1817.9" r="14.81" fill="#000000" fill-opacity="0.2" stroke="#000000" stroke-opacity="0.2" stroke-width="2.95"/>
<circle cx="872.9" cy="1803.2" r="14.81" fill="#000000" fill-opacity="0.2" stroke="#000000" stroke-opacity="0.2" stroke-width="2.95"/>
<circle cx="889.9" cy="1798.9" r="14.81" fill="#000000" fill-opacity="0.2" stroke="#000000" stroke-opacity="0.2" stroke-width="2.95"/>
<circle cx="920.0" cy="1794.6" r="14.81" fill="#000000" fill-opacity="0.2" stroke="#000000" stroke-opacity="0.2" stroke-width="2.95"/>
<circle cx="852.3" cy="1779.5" r="14.81" fill="#000000" fill-opacity="0.2" stroke="#000000" stroke-opacity="0.2" stroke-width="2.95"/>
<circle cx="776.1" cy="1751.1" r="14.81" fill="#000000" fill-opacity="0.2" stroke="#000000" stroke-opacity="0.2" stroke-width="2.95"/>
<circle cx="741.8" cy="1724.4" r="14.81" fill="#000000" fill-opacity="0.2" stroke="#000000" stroke-opacity="0.2" stroke-width="2.95"/>
<circle cx="650.6" cy="1704.5" r="14.81" fill="#000000" fill-opacity="0.2" stroke="#000000" stroke-opacity="0.2" stroke-width="2.95"/>
<circle cx="593.8" cy="1670.8" r="14.81" fill="#000000" fill-opacity="0.2" stroke="#000000" stroke-opacity="0.2" stroke-width="2.95"/>
<circle cx="581.2" cy="1635.0" r="14.81" fill="#000000" fill-opacity="0.2" stroke="#000000" stroke-opacity="0.2" stroke-width="2.95"/>
<circle cx="575.2" cy="1608.8" r="14.81" fill="#000000" fill-opacity="0.2" stroke="#000000" stroke-opacity="0.2" stroke-width="2.95"/>
<circle cx="563.8" cy="1603.7" r="14.81" fill="#000000" fill-opacity="0.2" stroke="#000000" stroke-opacity="0.2" stroke-width="2.95"/>
<circle cx="526.5" cy="1597.6" r="14.81" fill="#000000" fill-opacity="0.2" stroke="#000000" stroke-opacity="0.2" stroke-width="2.95"/>
<circle cx="508.1" cy="1590.0" r="14.81" fill="#000000" fill-opacity="0.2" stroke="#000000" stroke-opacity="0.2" stroke-width="2.95"/>
<circle cx="603.9" cy="1636.1" r="14.81" fill="#000000" fill-opacity="0.2" stroke="#000000" stroke-opacity="0.2" stroke-width="2.95"/>
<circle cx="616.6" cy="1645.6" r="14.81" fill="#000000" fill-opacity="0.2" stroke="#000000" stroke-opacity="0.2" stroke-width="2.95"/>
<circle cx="634.0" cy="1631.3" r="14.81" fill="#000000" fill-opacity="0.2" stroke="#000000" stroke-opacity="0.2" stroke-width="2.95"/>
<circle cx="671.2" cy="1592.2" r="14.81" fill="#000000" fill-opacity="0.2" stroke="#000000" stroke-opacity="0.2" stroke-width="2.95"/>
<circle cx="644.0" cy="1565.2" r="14.81" fill="#000000" fill-opacity="0.2" stroke="#000000" stroke-opacity="0.2" stroke-width="2.95"/>
<circle cx="660.7" cy="1513.7" r="14.81" fill="#000000" fill-opacity="0.2" stroke="#000000" stroke-opacity="0.2" stroke-width="2.95"/>
<circle cx="647.1" cy="1501.1" r="14.81" fill="#000000" fill-opacity="0.2" stroke="#000000" stroke-opacity="0.2" stroke-width="2.95"/>
<circle cx="651.5" cy="1437.2" r="14.81" fill="#000000" fill-opacity="0.2" stroke="#000000" stroke-opacity="0.2" stroke-width="2.95"/>
<circle cx="633.8" cy="1449.0" r="14.81" fill="#000000" fill-opacity="0.2" stroke="#000000" stroke-opacity="0.2" stroke-width="2.95"/>
<circle cx="589.9" cy="1361.5" r="14.81" fill="#000000" fill-opacity="0.2" stroke="#000000" stroke-opacity="0.2" stroke-width="2.95"/>
<circle cx="589.0" cy="1305.2" r="14.81" fill="#000000" fill-opacity="0.2" stroke="#000000" stroke-opacity="0.2" stroke-width="2.95"/>
<circle cx="535.6" cy="1263.7" r="14.81" fill="#000000" fill-opacity="0.2" stroke="#000000" stroke-opacity="0.2" stroke-width="2.95"/>
<circle cx="524.5" cy="1233.0" r="14.81" fill="#000000" fill-opacity="0.2" stroke="#000000" stroke-opacity="0.2" stroke-width="2.95"/>
<circle cx="516.4" cy="1236.3" r="14.81" fill="#000000" fill-opacity="0.2" stroke="#000000" stroke-opacity="0.2" stroke-width="2.95"/>
<circle cx="500.7" cy="1238.5" r="14.81" fill="#000000" fill-opacity="0.2" stroke="#000000" stroke-opacity="0.2" stroke-width="2.95"/>
<circle cx="529.0" cy="1354.2" r="14.81" fill="#000000" fill-opacity="0.2" stroke="#000000" stroke-opacity="0.2" stroke-width="2.95"/>
<circle cx="558.2" cy="1460.6" r="14.81" fill="#000000" fill-opacity="0.2" stroke="#000000" stroke-opacity="0.2" stroke-width="2.95"/>
<circle cx="624.6" cy="1550.8" r="14.81" fill="#000000" fill-opacity="0.2" stroke="#000000" stroke-opacity="0.2" stroke-width="2.95"/>
<circle cx="724.3" cy="1618.7" r="14.81" fill="#000000" fill-opacity="0.2" stroke="#000000" stroke-opacity="0.2" stroke-width="2.95"/>
<circle cx="793.2" cy="1641.2" r="14.81" fill="#000000" fill-opacity="0.2" stroke="#000000" stroke-opacity="0.2" stroke-width="2.95"/>
<circle cx="899.3" cy="1660.6" r="14.81" fill="#000000" fill-opacity="0.2" stroke="#000000" stroke-opacity="0.2" stroke-width="2.95"/>
<circle cx="896.9" cy="1674.6" r="14.81" fill="#000000" fill-opacity="0.2" stroke="#000000" stroke-opacity="0.2" stroke-width="2.95"/>
<circle cx="879.6" cy="1708.1" r="14.81" fill="#000000" fill-opacity="0.2" stroke="#000000" stroke-opacity="0.2" stroke-width="2.95"/>
<circle cx="1046.8" cy="1744.7" r="14.81" fill="#000000" fill-opacity="0.2" stroke="#000000" stroke-opacity="0.2" stroke-width="2.95"/>
<circle cx="1217.7" cy="1769.5" r="14.81" fill="#000000" fill-opacity="0.2" stroke="#000000" stroke-opacity="0.2" stroke-width="2.95"/>
<circle cx="1252.9" cy="1787.3" r="14.81" fill="#000000" fill-opacity="0.2" stroke="#000000" stroke-opacity="0.2" stroke-width="2.95"/>
<circle cx="1302.3" cy="1799.6" r="14.81" fill="#000000" fill-opacity="0.2" stroke="#000000" stroke-opacity="0.2" stroke-width="2.95"/>
<circle cx="1400.5" cy="1802.3" r="14.81" fill="#000000" fill-opacity="0.2" stroke="#000000" stroke-opacity="0.2" stroke-width="2.95"/>
<circle cx="1417.0" cy="1798.2" r="14.81" fill="#000000" fill-opacity="0.2" stroke="#000000" stroke-opacity="0.2" stroke-width="2.95"/>
<circle cx="1417.7" cy="1783.4" r="14.81" fill="#000000" fill-opacity="0.2" stroke="#000000" stroke-opacity="0.2" stroke-width="2.95"/>
<circle cx="1311.4" cy="1765.9" r="14.81" fill="#000000" fill-opacity="0.2" stroke="#000000" stroke-opacity="0.2" stroke-width="2.95"/>
<circle cx="1216.9" cy="1746.3" r="14.81" fill="#000000" fill-opacity="0.2" stroke="#000000" stroke-opacity="0.2" stroke-width="2.95"/>
<circle cx="1146.0" cy="1728.4" r="14.81" fill="#000000" fill-opacity="0.2" stroke="#000000" stroke-opacity="0.2" stroke-width="2.95"/>
<circle cx="1086.0" cy="1705.0" r="14.81" fill="#000000" fill-opacity="0.2" stroke="#000000" stroke-opacity="0.2" stroke-width="2.95"/>
<circle cx="997.0" cy="1689.1" r="14.81" fill="#000000" fill-opacity="0.2" stroke="#000000" stroke-opacity="0.2" stroke-width="2.95"/>
<circle cx="982.6" cy="1665.3" r="14.81" fill="#000000" fill-opacity="0.2" stroke="#000000" stroke-opacity="0.2" stroke-width="2.95"/>
<circle cx="998.4" cy="1642.1" r="14.81" fill="#000000" fill-opacity="0.2" stroke="#000000" stroke-opacity="0.2" stroke-width="2.95"/>
<circle cx="1036.8" cy="1655.8" r="14.81" fill="#000000" fill-opacity="0.2" stroke="#000000" stroke-opacity="0.2" stroke-width="2.95"/>
<circle cx="1046.4" cy="1676.8" r="14.81" fill="#000000" fill-opacity="0.2" stroke="#000000" stroke-opacity="0.2" stroke-width="2.95"/>
<circle cx="1069.7" cy="1665.9" r="14.81" fill="#000000" fill-opacity="0.2" stroke="#000000" stroke-opacity="0.2" stroke-width="2.95"/>
<circle cx="1078.8" cy="1672.3" r="14.81" fill="#000000" fill-opacity="0.2" stroke="#000000" stroke-opacity="0.2" stroke-width="2.95"/>
<circle cx="1090.7" cy="1662.2" r="14.81" fill="#000000" fill-opacity="0.2" stroke="#000000" stroke-opacity="0.2" stroke-width="2.95"/>
<circle cx="1097.1" cy="1674.1" r="14.81" fill="#000000" fill-opacity="0.2" stroke="#000000" stroke-opacity="0.2" stroke-width="2.95"/>
<circle cx="1083.4" cy="1681.4" r="14.81" fill="#000000" fill-opacity="0.2" stroke="#000000" stroke-opacity="0.2" stroke-width="2.95"/>
<circle cx="1106.2" cy="1679.6" r="14.81" fill="#000000" fill-opacity="0.2" stroke="#000000" stroke-opacity="0.2" stroke-width="2.95"/>
<circle cx="1115.4" cy="1686.0" r="14.81" fill="#000000" fill-opacity="0.2" stroke="#000000" stroke-opacity="0.2" stroke-width="2.95"/>
<circle cx="1129.1" cy="1682.3" r="14.81" fill="#000000" fill-opacity="0.2" stroke="#000000" stroke-opacity="0.2" stroke-width="2.95"/>
<circle cx="1143.7" cy="1690.5" r="14.81" fill="#000000" fill-opacity="0.2" stroke="#000000" stroke-opacity="0.2" stroke-width="2.95"/>
<circle cx="1157.9" cy="1680.5" r="14.81" fill="#000000" fill-opacity="0.2" stroke="#000000" stroke-opacity="0.2" stroke-width="2.95"/>
<circle cx="1143.2" cy="1679.0" r="14.81" fill="#000000" fill-opacity="0.2" stroke="#000000" stroke-opacity="0.2" stroke-width="2.95"/>
<circle cx="1133.7" cy="1670.4" r="14.81" fill="#000000" fill-opacity="0.2" stroke="#000000" stroke-opacity="0.2" stroke-width="2.95"/>
<circle cx="1115.4" cy="1672.3" r="14.81" fill="#000000" fill-opacity="0.2" stroke="#000000" stroke-opacity="0.2" stroke-width="2.95"/>
<circle cx="1138.2" cy="1663.1" r="14.81" fill="#000000" fill-opacity="0.2" stroke="#000000" stroke-opacity="0.2" stroke-width="2.95"/>
<circle cx="1145.6" cy="1655.8" r="14.81" fill="#000000" fill-opacity="0.2" stroke="#000000" stroke-opacity="0.2" stroke-width="2.95"/>
<circle cx="1129.1" cy="1651.2" r="14.81" fill="#000000" fill-opacity="0.2" stroke="#000000" stroke-opacity="0.2" stroke-width="2.95"/>
<circle cx="1046.4" cy="1635.2" r="14.81" fill="#000000" fill-opacity="0.2" stroke="#000000" stroke-opacity="0.2" stroke-width="2.95"/>
<circle cx="1014.8" cy="1630.2" r="14.81" fill="#000000" fill-opacity="0.2" stroke="#000000" stroke-opacity="0.2" stroke-width="2.95"/>
<circle cx="1001.1" cy="1633.9" r="14.81" fill="#000000" fill-opacity="0.2" stroke="#000000" stroke-opacity="0.2" stroke-width="2.95"/>
<circle cx="992.0" cy="1616.5" r="14.81" fill="#000000" fill-opacity="0.2" stroke="#000000" stroke-opacity="0.2" stroke-width="2.95"/>
<circle cx="972.5" cy="1604.8" r="14.81" fill="#000000" fill-opacity="0.2" stroke="#000000" stroke-opacity="0.2" stroke-width="2.95"/>
<circle cx="913.8" cy="1556.2" r="14.81" fill="#000000" fill-opacity="0.2" stroke="#000000" stroke-opacity="0.2" stroke-width="2.95"/>
<circle cx="866.8" cy="1470.0" r="14.81" fill="#000000" fill-opacity="0.2" stroke="#000000" stroke-opacity="0.2" stroke-width="2.95"/>
<circle cx="805.4" cy="1416.2" r="14.81" fill="#000000" fill-opacity="0.2" stroke="#000000" stroke-opacity="0.2" stroke-width="2.95"/>
<circle cx="753.5" cy="1327.6" r="14.81" fill="#000000" fill-opacity="0.2" stroke="#000000" stroke-opacity="0.2" stroke-width="2.95"/>
<circle cx="739.4" cy="1273.5" r="14.81" fill="#000000" fill-opacity="0.2" stroke="#000000" stroke-opacity="0.2" stroke-width="2.95"/>
<circle cx="719.2" cy="1235.2" r="14.81" fill="#000000" fill-opacity="0.2" stroke="#000000" stroke-opacity="0.2" stroke-width="2.95"/>
<circle cx="719.1" cy="1312.4" r="14.81" fill="#000000" fill-opacity="0.2" stroke="#000000" stroke-opacity="0.2" stroke-width="2.95"/>
<circle cx="729.8" cy="1384.3" r="14.81" fill="#000000" fill-opacity="0.2" stroke="#000000" stroke-opacity="0.2" stroke-width="2.95"/>
<circle cx="756.0" cy="1329.2" r="14.81" fill="#000000" fill-opacity="0.2" stroke="#000000" stroke-opacity="0.2" stroke-width="2.95"/>
<circle cx="838.7" cy="1504.2" r="14.81" fill="#000000" fill-opacity="0.2" stroke="#000000" stroke-opacity="0.2" stroke-width="2.95"/>
<circle cx="996.5" cy="1567.5" r="14.81" fill="#000000" fill-opacity="0.2" stroke="#000000" stroke-opacity="0.2" stroke-width="2.95"/>
<circle cx="1222.8" cy="1639.5" r="14.81" fill="#000000" fill-opacity="0.2" stroke="#000000" stroke-opacity="0.2" stroke-width="2.95"/>
<circle cx="1449.7" cy="1654.2" r="14.81" fill="#000000" fill-opacity="0.2" stroke="#000000" stroke-opacity="0.2" stroke-width="2.95"/>
<circle cx="1672.5" cy="1717.8" r="14.81" fill="#000000" fill-opacity="0.2" stroke="#000000" stroke-opacity="0.2" stroke-width="2.95"/>
<circle cx="1897.1" cy="1742.1" r="14.81" fill="#000000" fill-opacity="0.2" stroke="#000000" stroke-opacity="0.2" stroke-width="2.95"/>
<circle cx="2074.9" cy="1756.5" r="14.81" fill="#000000" fill-opacity="0.2" stroke="#000000" stroke-opacity="0.2" stroke-width="2.95"/>
<circle cx="2287.4" cy="1778.8" r="14.81" fill="#000000" fill-opacity="0.2" stroke="#000000" stroke-opacity="0.2" stroke-width="2.95"/>
<circle cx="2434.1" cy="1799.8" r="14.81" fill="#000000" fill-opacity="0.2" stroke="#000000" stroke-opacity="0.2" stroke-width="2.95"/>
<circle cx="2717.7" cy="1817.0" r="14.81" fill="#000000" fill-opacity="0.2" stroke="#000000" stroke-opacity="0.2" stroke-width="2.95"/>
<circle cx="2945.4" cy="1777.8" r="14.81" fill="#000000" fill-opacity="0.2" stroke="#000000" stroke-opacity="0.2" stroke-width="2.95"/>
<circle cx="3034.0" cy="1772.5" r="14.81" fill="#000000" fill-opacity="0.2" stroke="#000000" stroke-opacity="0.2" stroke-width="2.95"/>
<circle cx="3084.8" cy="1794.9" r="14.81" fill="#000000" fill-opacity="0.2" stroke="#000000" stroke-opacity="0.2" stroke-width="2.95"/>
<circle cx="3114.9" cy="1783.9" r="14.81" fill="#000000" fill-opacity="0.2" stroke="#000000" stroke-opacity="0.2" stroke-width="2.95"/>
<circle cx="3074.0" cy="1765.2" r="14.81" fill="#000000" fill-opacity="0.2" stroke="#000000" stroke-opacity="0.2" stroke-width="2.95"/>
<circle cx="2934.0" cy="1753.5" r="14.81" fill="#000000" fill-opacity="0.2" stroke="#000000" stroke-opacity="0.2" stroke-width="2.95"/>
<circle cx="2815.1" cy="1738.9" r="14.81" fill="#000000" fill-opacity="0.2" stroke="#000000" stroke-opacity="0.2" stroke-width="2.95"/>
<circle cx="2767.5" cy="1741.5" r="14.81" fill="#000000" fill-opacity="0.2" stroke="#000000" stroke-opacity="0.2" stroke-width="2.95"/>
<circle cx="2707.2" cy="1737.0" r="14.81" fill="#000000" fill-opacity="0.2" stroke="#000000" stroke-opacity="0.2" stroke-width="2.95"/>
<circle cx="2689.2" cy="1746.3" r="14.81" fill="#000000" fill-opacity="0.2" stroke="#000000" stroke-opacity="0.2" stroke-width="2.95"/>
<circle cx="2645.1" cy="1745.2" r="14.81" fill="#000000" fill-opacity="0.2" stroke="#000000" stroke-opacity="0.2" stroke-width="2.95"/>
<circle cx="2659.9" cy="1728.5" r="14.81" fill="#000000" fill-opacity="0.2" stroke="#000000" stroke-opacity="0.2" stroke-width="2.95"/>
<circle cx="2616.0" cy="1713.0" r="14.81" fill="#000000" fill-opacity="0.2" stroke="#000000" stroke-opacity="0.2" stroke-width="2.95"/>
<circle cx="2680.0" cy="1690.8" r="14.81" fill="#000000" fill-opacity="0.2" stroke="#000000" stroke-opacity="0.2" stroke-width="2.95"/>
<circle cx="2580.6" cy="1690.4" r="14.81" fill="#000000" fill-opacity="0.2" stroke="#000000" stroke-opacity="0.2" stroke-width="2.95"/>
<circle cx="2455.4" cy="1657.2" r="14.81" fill="#000000" fill-opacity="0.2" stroke="#000000" stroke-opacity="0.2" stroke-width="2.95"/>
<circle cx="2374.9" cy="1648.5" r="14.81" fill="#000000" fill-opacity="0.2" stroke="#000000" stroke-opacity="0.2" stroke-width="2.95"/>
<circle cx="2282.5" cy="1632.0" r="14.81" fill="#000000" fill-opacity="0.2" stroke="#000000" stroke-opacity="0.2" stroke-width="2.95"/>
<circle cx="2209.7" cy="1592.4" r="14.81" fill="#000000" fill-opacity="0.2" stroke="#000000" stroke-opacity="0.2" stroke-width="2.95"/>
<circle cx="2180.0" cy="1580.5" r="14.81" fill="#000000" fill-opacity="0.2" stroke="#000000" stroke-opacity="0.2" stroke-width="2.95"/>
<circle cx="2181.2" cy="1565.7" r="14.81" fill="#000000" fill-opacity="0.2" stroke="#000000" stroke-opacity="0.2" stroke-width="2.95"/>
<circle cx="2108.0" cy="1550.8" r="14.81" fill="#000000" fill-opacity="0.2" stroke="#000000" stroke-opacity="0.2" stroke-width="2.95"/>
<circle cx="2020.5" cy="1586.3" r="14.81" fill="#000000" fill-opacity="0.2" stroke="#000000" stroke-opacity="0.2" stroke-width="2.95"/>
<circle cx="1974.1" cy="1608.4" r="14.81" fill="#000000" fill-opacity="0.2" stroke="#000000" stroke-opacity="0.2" stroke-width="2.95"/>
<circle cx="1946.2" cy="1619.4" r="14.81" fill="#000000" fill-opacity="0.2" stroke="#000000" stroke-opacity="0.2" stroke-width="2.95"/>
<circle cx="1900.5" cy="1637.2" r="14.81" fill="#000000" fill-opacity="0.2" stroke="#000000" stroke-opacity="0.2" stroke-width="2.95"/>
<circle cx="1896.7" cy="1620.5" r="14.81" fill="#000000" fill-opacity="0.2" stroke="#000000" stroke-opacity="0.2" stroke-width="2.95"/>
<circle cx="1947.8" cy="1601.1" r="14.81" fill="#000000" fill-opacity="0.2" stroke="#000000" stroke-opacity="0.2" stroke-width="2.95"/>
<circle cx="1858.7" cy="1593.8" r="14.81" fill="#000000" fill-opacity="0.2" stroke="#000000" stroke-opacity="0.2" stroke-width="2.95"/>
<circle cx="1817.1" cy="1567.5" r="14.81" fill="#000000" fill-opacity="0.2" stroke="#000000" stroke-opacity="0.2" stroke-width="2.95"/>
<circle cx="1791.1" cy="1541.3" r="14.81" fill="#000000" fill-opacity="0.2" stroke="#000000" stroke-opacity="0.2" stroke-width="2.95"/>
<circle cx="1761.1" cy="1539.6" r="14.81" fill="#000000" fill-opacity="0.2" stroke="#000000" stroke-opacity="0.2" stroke-width="2.95"/>
<circle cx="1753.8" cy="1530.5" r="14.81" fill="#000000" fill-opacity="0.2" stroke="#000000" stroke-opacity="0.2" stroke-width="2.95"/>
<circle cx="1744.6" cy="1523.1" r="14.81" fill="#000000" fill-opacity="0.2" stroke="#000000" stroke-opacity="0.2" stroke-width="2.95"/>
<circle cx="1724.5" cy="1527.7" r="14.81" fill="#000000" fill-opacity="0.2" stroke="#000000" stroke-opacity="0.2" stroke-width="2.95"/>
<circle cx="1742.8" cy="1508.5" r="14.81" fill="#000000" fill-opacity="0.2" stroke="#000000" stroke-opacity="0.2" stroke-width="2.95"/>
<circle cx="1748.3" cy="1499.4" r="14.81" fill="#000000" fill-opacity="0.2" stroke="#000000" stroke-opacity="0.2" stroke-width="2.95"/>
<circle cx="1739.2" cy="1486.6" r="14.81" fill="#000000" fill-opacity="0.2" stroke="#000000" stroke-opacity="0.2" stroke-width="2.95"/>
<circle cx="1735.5" cy="1472.0" r="14.81" fill="#000000" fill-opacity="0.2" stroke="#000000" stroke-opacity="0.2" stroke-width="2.95"/>
<circle cx="1720.9" cy="1470.1" r="14.81" fill="#000000" fill-opacity="0.2" stroke="#000000" stroke-opacity="0.2" stroke-width="2.95"/>
<circle cx="1750.1" cy="1447.8" r="14.81" fill="#000000" fill-opacity="0.2" stroke="#000000" stroke-opacity="0.2" stroke-width="2.95"/>
<circle cx="1724.5" cy="1453.7" r="14.81" fill="#000000" fill-opacity="0.2" stroke="#000000" stroke-opacity="0.2" stroke-width="2.95"/>
<circle cx="1717.2" cy="1460.1" r="14.81" fill="#000000" fill-opacity="0.2" stroke="#000000" stroke-opacity="0.2" stroke-width="2.95"/>
<circle cx="1679.7" cy="1456.4" r="14.81" fill="#000000" fill-opacity="0.2" stroke="#000000" stroke-opacity="0.2" stroke-width="2.95"/>
<circle cx="1661.5" cy="1416.2" r="14.81" fill="#000000" fill-opacity="0.2" stroke="#000000" stroke-opacity="0.2" stroke-width="2.95"/>
<circle cx="1669.7" cy="1394.3" r="14.81" fill="#000000" fill-opacity="0.2" stroke="#000000" stroke-opacity="0.2" stroke-width="2.95"/>
<circle cx="1640.4" cy="1384.2" r="14.81" fill="#000000" fill-opacity="0.2" stroke="#000000" stroke-opacity="0.2" stroke-width="2.95"/>
<circle cx="1613.0" cy="1350.4" r="14.81" fill="#000000" fill-opacity="0.2" stroke="#000000" stroke-opacity="0.2" stroke-width="2.95"/>
<circle cx="1605.7" cy="1346.7" r="14.81" fill="#000000" fill-opacity="0.2" stroke="#000000" stroke-opacity="0.2" stroke-width="2.95"/>
<circle cx="1592.9" cy="1325.7" r="14.81" fill="#000000" fill-opacity="0.2" stroke="#000000" stroke-opacity="0.2" stroke-width="2.95"/>
<circle cx="1591.4" cy="1317.7" r="14.81" fill="#000000" fill-opacity="0.2" stroke="#000000" stroke-opacity="0.2" stroke-width="2.95"/>
<circle cx="1559.6" cy="1285.5" r="14.81" fill="#000000" fill-opacity="0.2" stroke="#000000" stroke-opacity="0.2" stroke-width="2.95"/>
<circle cx="1523.0" cy="1274.1" r="14.81" fill="#000000" fill-opacity="0.2" stroke="#000000" stroke-opacity="0.2" stroke-width="2.95"/>
<circle cx="1513.9" cy="1233.9" r="14.81" fill="#000000" fill-opacity="0.2" stroke="#000000" stroke-opacity="0.2" stroke-width="2.95"/>
<circle cx="1511.1" cy="1226.6" r="14.81" fill="#000000" fill-opacity="0.2" stroke="#000000" stroke-opacity="0.2" stroke-width="2.95"/>
<circle cx="1506.0" cy="1218.0" r="14.81" fill="#000000" fill-opacity="0.2" stroke="#000000" stroke-opacity="0.2" stroke-width="2.95"/>
<circle cx="1501.5" cy="1221.7" r="14.81" fill="#000000" fill-opacity="0.2" stroke="#000000" stroke-opacity="0.2" stroke-width="2.95"/>
<circle cx="1507.5" cy="1258.6" r="14.81" fill="#000000" fill-opacity="0.2" stroke="#000000" stroke-opacity="0.2" stroke-width="2.95"/>
<circle cx="1454.9" cy="1187.5" r="14.81" fill="#000000" fill-opacity="0.2" stroke="#000000" stroke-opacity="0.2" stroke-width="2.95"/>
<circle cx="1411.5" cy="1168.3" r="14.81" fill="#000000" fill-opacity="0.2" stroke="#000000" stroke-opacity="0.2" stroke-width="2.95"/>
<circle cx="1345.2" cy="1133.0" r="14.81" fill="#000000" fill-opacity="0.2" stroke="#000000" stroke-opacity="0.2" stroke-width="2.95"/>
<circle cx="1373.5" cy="1112.9" r="14.81" fill="#000000" fill-opacity="0.2" stroke="#000000" stroke-opacity="0.2" stroke-width="2.95"/>
<circle cx="1339.7" cy="1136.1" r="14.81" fill="#000000" fill-opacity="0.2" stroke="#000000" stroke-opacity="0.2" stroke-width="2.95"/>
<circle cx="1269.9" cy="1142.2" r="14.81" fill="#000000" fill-opacity="0.2" stroke="#000000" stroke-opacity="0.2" stroke-width="2.95"/>
<circle cx="1261.1" cy="1191.0" r="14.81" fill="#000000" fill-opacity="0.2" stroke="#000000" stroke-opacity="0.2" stroke-width="2.95"/>
<circle cx="1300.4" cy="1218.4" r="14.81" fill="#000000" fill-opacity="0.2" stroke="#000000" stroke-opacity="0.2" stroke-width="2.95"/>
<circle cx="1331.8" cy="1292.4" r="14.81" fill="#000000" fill-opacity="0.2" stroke="#000000" stroke-opacity="0.2" stroke-width="2.95"/>
<circle cx="1454.5" cy="1351.1" r="14.81" fill="#000000" fill-opacity="0.2" stroke="#000000" stroke-opacity="0.2" stroke-width="2.95"/>
<circle cx="1616.7" cy="1393.3" r="14.81" fill="#000000" fill-opacity="0.2" stroke="#000000" stroke-opacity="0.2" stroke-width="2.95"/>
<circle cx="1627.6" cy="1431.7" r="14.81" fill="#000000" fill-opacity="0.2" stroke="#000000" stroke-opacity="0.2" stroke-width="2.95"/>
<circle cx="1698.9" cy="1424.4" r="14.81" fill="#000000" fill-opacity="0.2" stroke="#000000" stroke-opacity="0.2" stroke-width="2.95"/>
<circle cx="1710.8" cy="1426.3" r="14.81" fill="#000000" fill-opacity="0.2" stroke="#000000" stroke-opacity="0.2" stroke-width="2.95"/>
<circle cx="1608.4" cy="1348.7" r="14.81" fill="#000000" fill-opacity="0.2" stroke="#000000" stroke-opacity="0.2" stroke-width="2.95"/>
<circle cx="1595.6" cy="1326.8" r="14.81" fill="#000000" fill-opacity="0.2" stroke="#000000" stroke-opacity="0.2" stroke-width="2.95"/>
<circle cx="1615.0" cy="1313.4" r="14.81" fill="#000000" fill-opacity="0.2" stroke="#000000" stroke-opacity="0.2" stroke-width="2.95"/>
<circle cx="1616.0" cy="1268.8" r="14.81" fill="#000000" fill-opacity="0.2" stroke="#000000" stroke-opacity="0.2" stroke-width="2.95"/>
<circle cx="1529.4" cy="1255.8" r="14.81" fill="#000000" fill-opacity="0.2" stroke="#000000" stroke-opacity="0.2" stroke-width="2.95"/>
<circle cx="1544.2" cy="1247.2" r="14.81" fill="#000000" fill-opacity="0.2" stroke="#000000" stroke-opacity="0.2" stroke-width="2.95"/>
<circle cx="1521.2" cy="1254.0" r="14.81" fill="#000000" fill-opacity="0.2" stroke="#000000" stroke-opacity="0.2" stroke-width="2.95"/>
<circle cx="1509.7" cy="1226.3" r="14.81" fill="#000000" fill-opacity="0.2" stroke="#000000" stroke-opacity="0.2" stroke-width="2.95"/>
<circle cx="1500.2" cy="1222.0" r="14.81" fill="#000000" fill-opacity="0.2" stroke="#000000" stroke-opacity="0.2" stroke-width="2.95"/>
<circle cx="1513.4" cy="1235.4" r="14.81" fill="#000000" fill-opacity="0.2" stroke="#000000" stroke-opacity="0.2" stroke-width="2.95"/>
<circle cx="1522.5" cy="1255.5" r="14.81" fill="#000000" fill-opacity="0.2" stroke="#000000" stroke-opacity="0.2" stroke-width="2.95"/>
<circle cx="1623.2" cy="1285.2" r="14.81" fill="#000000" fill-opacity="0.2" stroke="#000000" stroke-opacity="0.2" stroke-width="2.95"/>
<circle cx="1577.9" cy="1253.9" r="14.81" fill="#000000" fill-opacity="0.2" stroke="#000000" stroke-opacity="0.2" stroke-width="2.95"/>
<circle cx="1565.7" cy="1259.4" r="14.81" fill="#000000" fill-opacity="0.2" stroke="#000000" stroke-opacity="0.2" stroke-width="2.95"/>
<circle cx="1627.9" cy="1301.2" r="14.81" fill="#000000" fill-opacity="0.2" stroke="#000000" stroke-opacity="0.2" stroke-width="2.95"/>
<circle cx="1662.2" cy="1305.9" r="14.81" fill="#000000" fill-opacity="0.2" stroke="#000000" stroke-opacity="0.2" stroke-width="2.95"/>
<circle cx="1645.2" cy="1264.6" r="14.81" fill="#000000" fill-opacity="0.2" stroke="#000000" stroke-opacity="0.2" stroke-width="2.95"/>
<circle cx="1626.5" cy="1296.0" r="14.81" fill="#000000" fill-opacity="0.2" stroke="#000000" stroke-opacity="0.2" stroke-width="2.95"/>
<circle cx="1732.4" cy="1281.2" r="14.81" fill="#000000" fill-opacity="0.2" stroke="#000000" stroke-opacity="0.2" stroke-width="2.95"/>
<circle cx="1757.3" cy="1304.5" r="14.81" fill="#000000" fill-opacity="0.2" stroke="#000000" stroke-opacity="0.2" stroke-width="2.95"/>
<circle cx="1802.3" cy="1271.5" r="14.81" fill="#000000" fill-opacity="0.2" stroke="#000000" stroke-opacity="0.2" stroke-width="2.95"/>
<circle cx="1775.0" cy="1290.9" r="14.81" fill="#000000" fill-opacity="0.2" stroke="#000000" stroke-opacity="0.2" stroke-width="2.95"/>
<circle cx="1773.7" cy="1235.2" r="14.81" fill="#000000" fill-opacity="0.2" stroke="#000000" stroke-opacity="0.2" stroke-width="2.95"/>
<circle cx="1749.9" cy="1228.5" r="14.81" fill="#000000" fill-opacity="0.2" stroke="#000000" stroke-opacity="0.2" stroke-width="2.95"/>
<circle cx="1691.5" cy="1180.6" r="14.81" fill="#000000" fill-opacity="0.2" stroke="#000000" stroke-opacity="0.2" stroke-width="2.95"/>
<circle cx="1749.3" cy="1229.3" r="14.81" fill="#000000" fill-opacity="0.2" stroke="#000000" stroke-opacity="0.2" stroke-width="2.95"/>
<circle cx="1760.5" cy="1131.4" r="14.81" fill="#000000" fill-opacity="0.2" stroke="#000000" stroke-opacity="0.2" stroke-width="2.95"/>
<circle cx="1696.1" cy="1097.9" r="14.81" fill="#000000" fill-opacity="0.2" stroke="#000000" stroke-opacity="0.2" stroke-width="2.95"/>
<circle cx="1606.1" cy="1053.1" r="14.81" fill="#000000" fill-opacity="0.2" stroke="#000000" stroke-opacity="0.2" stroke-width="2.95"/>
<circle cx="1599.9" cy="954.5" r="14.81" fill="#000000" fill-opacity="0.2" stroke="#000000" stroke-opacity="0.2" stroke-width="2.95"/>
<circle cx="1534.8" cy="1013.4" r="14.81" fill="#000000" fill-opacity="0.2" stroke="#000000" stroke-opacity="0.2" stroke-width="2.95"/>
<circle cx="1482.8" cy="882.3" r="14.81" fill="#000000" fill-opacity="0.2" stroke="#000000" stroke-opacity="0.2" stroke-width="2.95"/>
<circle cx="1437.4" cy="860.0" r="14.81" fill="#000000" fill-opacity="0.2" stroke="#000000" stroke-opacity="0.2" stroke-width="2.95"/>
<circle cx="1414.5" cy="832.2" r="14.81" fill="#000000" fill-opacity="0.2" stroke="#000000" stroke-opacity="0.2" stroke-width="2.95"/>
<circle cx="1395.1" cy="812.5" r="14.81" fill="#000000" fill-opacity="0.2" stroke="#000000" stroke-opacity="0.2" stroke-width="2.95"/>
<circle cx="1333.9" cy="640.6" r="14.81" fill="#000000" fill-opacity="0.2" stroke="#000000" stroke-opacity="0.2" stroke-width="2.95"/>
<circle cx="1352.8" cy="638.8" r="14.81" fill="#000000" fill-opacity="0.2" stroke="#000000" stroke-opacity="0.2" stroke-width="2.95"/>
<circle cx="1390.1" cy="522.1" r="14.81" fill="#000000" fill-opacity="0.2" stroke="#000000" stroke-opacity="0.2" stroke-width="2.95"/>
<circle cx="1288.4" cy="391.5" r="14.81" fill="#000000" fill-opacity="0.2" stroke="#000000" stroke-opacity="0.2" stroke-width="2.95"/>
<circle cx="1344.0" cy="384.6" r="14.81" fill="#000000" fill-opacity="0.2" stroke="#000000" stroke-opacity="0.2" stroke-width="2.95"/>
<circle cx="1369.6" cy="454.3" r="14.81" fill="#000000" fill-opacity="0.2" stroke="#000000" stroke-opacity="0.2" stroke-width="2.95"/>
<circle cx="1420.7" cy="547.4" r="14.81" fill="#000000" fill-opacity="0.2" stroke="#000000" stroke-opacity="0.2" stroke-width="2.95"/>
<circle cx="1551.2" cy="761.6" r="14.81" fill="#000000" fill-opacity="0.2" stroke="#000000" stroke-opacity="0.2" stroke-width="2.95"/>
<circle cx="1564.4" cy="949.8" r="14.81" fill="#000000" fill-opacity="0.2" stroke="#000000" stroke-opacity="0.2" stroke-width="2.95"/>
<circle cx="1583.6" cy="1016.6" r="14.81" fill="#000000" fill-opacity="0.2" stroke="#000000" stroke-opacity="0.2" stroke-width="2.95"/>
<circle cx="1512.0" cy="1118.0" r="14.81" fill="#000000" fill-opacity="0.2" stroke="#000000" stroke-opacity="0.2" stroke-width="2.95"/>
<circle cx="1357.9" cy="837.0" r="14.81" fill="#000000" fill-opacity="0.2" stroke="#000000" stroke-opacity="0.2" stroke-width="2.95"/>
<circle cx="1349.1" cy="817.6" r="14.81" fill="#000000" fill-opacity="0.2" stroke="#000000" stroke-opacity="0.2" stroke-width="2.95"/>
<circle cx="1340.2" cy="858.7" r="14.81" fill="#000000" fill-opacity="0.2" stroke="#000000" stroke-opacity="0.2" stroke-width="2.95"/>
<circle cx="1330.3" cy="842.9" r="14.81" fill="#000000" fill-opacity="0.2" stroke="#000000" stroke-opacity="0.2" stroke-width="2.95"/>
<circle cx="1322.0" cy="847.0" r="14.81" fill="#000000" fill-opacity="0.2" stroke="#000000" stroke-opacity="0.2" stroke-width="2.95"/>
<circle cx="1332.3" cy="827.3" r="14.81" fill="#000000" fill-opacity="0.2" stroke="#000000" stroke-opacity="0.2" stroke-width="2.95"/>
<circle cx="1414.3" cy="831.8" r="14.81" fill="#000000" fill-opacity="0.2" stroke="#000000" stroke-opacity="0.2" stroke-width="2.95"/>
<circle cx="1449.2" cy="838.7" r="14.81" fill="#000000" fill-opacity="0.2" stroke="#000000" stroke-opacity="0.2" stroke-width="2.95"/>
<circle cx="1563.2" cy="895.0" r="14.81" fill="#000000" fill-opacity="0.2" stroke="#000000" stroke-opacity="0.2" stroke-width="2.95"/>
<circle cx="1592.5" cy="922.3" r="14.81" fill="#000000" fill-opacity="0.2" stroke="#000000" stroke-opacity="0.2" stroke-width="2.95"/>
<circle cx="1610.1" cy="926.2" r="14.81" fill="#000000" fill-opacity="0.2" stroke="#000000" stroke-opacity="0.2" stroke-width="2.95"/>
<circle cx="1649.1" cy="1024.2" r="14.81" fill="#000000" fill-opacity="0.2" stroke="#000000" stroke-opacity="0.2" stroke-width="2.95"/>
<circle cx="1691.2" cy="1058.7" r="14.81" fill="#000000" fill-opacity="0.2" stroke="#000000" stroke-opacity="0.2" stroke-width="2.95"/>
<circle cx="1692.5" cy="1025.8" r="14.81" fill="#000000" fill-opacity="0.2" stroke="#000000" stroke-opacity="0.2" stroke-width="2.95"/>
<circle cx="1683.9" cy="1127.3" r="14.81" fill="#000000" fill-opacity="0.2" stroke="#000000" stroke-opacity="0.2" stroke-width="2.95"/>
<circle cx="1665.9" cy="1106.1" r="14.81" fill="#000000" fill-opacity="0.2" stroke="#000000" stroke-opacity="0.2" stroke-width="2.95"/>
<circle cx="1749.5" cy="1228.9" r="14.81" fill="#000000" fill-opacity="0.2" stroke="#000000" stroke-opacity="0.2" stroke-width="2.95"/>
<circle cx="1840.3" cy="1236.4" r="14.81" fill="#000000" fill-opacity="0.2" stroke="#000000" stroke-opacity="0.2" stroke-width="2.95"/>
<path d="M1623.2,1285.2 L1577.9,1253.9 L1565.7,1259.4 L1627.9,1301.2 L1662.2,1305.9 L1645.2,1264.6 L1626.5,1296.0 L1732.4,1281.2 L1757.3,1304.5 L1802.3,1271.5 L1775.0,1290.9 L1773.7,1235.2 L1749.9,1228.5 L1691.5,1180.6 L1749.3,1229.3 L1760.5,1131.4 L1696.1,1097.9 L1606.1,1053.1 L1599.9,954.5 L1534.8,1013.4 L1482.8,882.3 L1437.4,860.0 L1414.5,832.2 L1395.1,812.5 L1333.9,640.6 L1352.8,638.8 L1390.1,522.1 L1288.4,391.5 L1344.0,384.6 L1369.6,454.3 L1420.7,547.4 L1551.2,761.6 L1564.4,949.8 L1583.6,1016.6 L1512.0,1118.0 L1357.9,837.0 L1349.1,817.6 L1340.2,858.7 L1330.3,842.9 L1322.0,847.0 L1332.3,827.3 L1414.3,831.8 L1449.2,838.7 L1563.2,895.0 L1592.5,922.3 L1610.1,926.2 L1592.5,922.3 L1649.1,1024.2 L1691.2,1058.7 L1692.5,1025.8 L1683.9,1127.3 L1665.9,1106.1 L1691.5,1180.6 L1749.5,1228.9 L1840.3,1236.4" fill="none" stroke="#0000FF" stroke-opacity="0.8" stroke-width="8.89" stroke-linejoin="round" stroke-linecap="butt"/>
<circle cx="1623.2" cy="1285.2" r="14.81" fill="#0000FF" fill-opacity="0.8" stroke="#0000FF" stroke-opacity="0.8" stroke-width="2.95"/>
<circle cx="1577.9" cy="1253.9" r="14.81" fill="#0000FF" fill-opacity="0.8" stroke="#0000FF" stroke-opacity="0.8" stroke-width="2.95"/>
<circle cx="1565.7" cy="1259.4" r="14.81" fill="#0000FF" fill-opacity="0.8" stroke="#0000FF" stroke-opacity="0.8" stroke-width="2.95"/>
<circle cx="1627.9" cy="1301.2" r="14.81" fill="#0000FF" fill-opacity="0.8" stroke="#0000FF" stroke-opacity="0.8" stroke-width="2.95"/>
<circle cx="1662.2" cy="1305.9" r="14.81" fill="#0000FF" fill-opacity="0.8" stroke="#0000FF" stroke-opacity="0.8" stroke-width="2.95"/>
<circle cx="1645.2" cy="1264.6" r="14.81" fill="#0000FF" fill-opacity="0.8" stroke="#0000FF" stroke-opacity="0.8" stroke-width="2.95"/>
<circle cx="1626.5" cy="1296.0" r="14.81" fill="#0000FF" fill-opacity="0.8" stroke="#0000FF" stroke-opacity="0.8" stroke-width="2.95"/>
<circle cx="1732.4" cy="1281.2" r="14.81" fill="#0000FF" fill-opacity="0.8" stroke="#0000FF" stroke-opacity="0.8" stroke-width="2.95"/>
<circle cx="1757.3" cy="1304.5" r="14.81" fill="#0000FF" fill-opacity="0.8" stroke="#0000FF" stroke-opacity="0.8" stroke-width="2.95"/>
<circle cx="1802.3" cy="1271.5" r="14.81" fill="#0000FF" fill-opacity="0.8" stroke="#0000FF" stroke-opacity="0.8" stroke-width="2.95"/>
<circle cx="1775.0" cy="1290.9" r="14.81" fill="#0000FF" fill-opacity="0.8" stroke="#0000FF" stroke-opacity="0.8" stroke-width="2.95"/>
<circle cx="1773.7" cy="1235.2" r="14.81" fill="#0000FF" fill-opacity="0.8" stroke="#0000FF" stroke-opacity="0.8" stroke-width="2.95"/>
<circle cx="1749.9" cy="1228.5" r="14.81" fill="#0000FF" fill-opacity="0.8" stroke="#0000FF" stroke-opacity="0.8" stroke-width="2.95"/>
<circle cx="1691.5" cy="1180.6" r="14.81" fill="#0000FF" fill-opacity="0.8" stroke="#0000FF" stroke-opacity="0.8" stroke-width="2.95"/>
<circle cx="1749.3" cy="1229.3" r="14.81" fill="#0000FF" fill-opacity="0.8" stroke="#0000FF" stroke-opacity="0.8" stroke-width="2.95"/>
<circle cx="1760.5" cy="1131.4" r="14.81" fill="#0000FF" fill-opacity="0.8" stroke="#0000FF" stroke-opacity="0.8" stroke-width="2.95"/>
<circle cx="1696.1" cy="1097.9" r="14.81" fill="#0000FF" fill-opacity="0.8" stroke="#0000FF" stroke-opacity="0.8" stroke-width="2.95"/>
<circle cx="1606.1" cy="1053.1" r="14.81" fill="#0000FF" fill-opacity="0.8" stroke="#0000FF" stroke-opacity="0.8" stroke-width="2.95"/>
<circle cx="1599.9" cy="954.5" r="14.81" fill="#0000FF" fill-opacity="0.8" stroke="#0000FF" stroke-opacity="0.8" stroke-width="2.95"/>
<circle cx="1534.8" cy="1013.4" r="14.81" fill="#0000FF" fill-opacity="0.8" stroke="#0000FF" stroke-opacity="0.8" stroke-width="2.95"/>
<circle cx="1482.8" cy="882.3" r="14.81" fill="#0000FF" fill-opacity="0.8" stroke="#0000FF" stroke-opacity="0.8" stroke-width="2.95"/>
<circle cx="1437.4" cy="860.0" r="14.81" fill="#0000FF" fill-opacity="0.8" stroke="#0000FF" stroke-opacity="0.8" stroke-width="2.95"/>
<circle cx="1414.5" cy="832.2" r="14.81" fill="#0000FF" fill-opacity="0.8" stroke="#0000FF" stroke-opacity="0.8" stroke-width="2.95"/>
<circle cx="1395.1" cy="812.5" r="14.81" fill="#0000FF" fill-opacity="0.8" stroke="#0000FF" stroke-opacity="0.8" stroke-width="2.95"/>
<circle cx="1333.9" cy="640.6" r="14.81" fill="#0000FF" fill-opacity="0.8" stroke="#0000FF" stroke-opacity="0.8" stroke-width="2.95"/>
<circle cx="1352.8" cy="638.8" r="14.81" fill="#0000FF" fill-opacity="0.8" stroke="#0000FF" stroke-opacity="0.8" stroke-width="2.95"/>
<circle cx="1390.1" cy="522.1" r="14.81" fill="#0000FF" fill-opacity="0.8" stroke="#0000FF" stroke-opacity="0.8" stroke-width="2.95"/>
<circle cx="1288.4" cy="391.5" r="14.81" fill="#0000FF" fill-opacity="0.8" stroke="#0000FF" stroke-opacity="0.8" stroke-width="2.95"/>
<circle cx="1344.0" cy="384.6" r="14.81" fill="#0000FF" fill-opacity="0.8" stroke="#0000FF" stroke-opacity="0.8" stroke-width="2.95"/>
<circle cx="1369.6" cy="454.3" r="14.81" fill="#0000FF" fill-opacity="0.8" stroke="#0000FF" stroke-opacity="0.8" stroke-width="2.95"/>
<circle cx="1420.7" cy="547.4" r="14.81" fill="#0000FF" fill-opacity="0.8" stroke="#0000FF" stroke-opacity="0.8" stroke-width="2.95"/>
<circle cx="1551.2" cy="761.6" r="14.81" fill="#0000FF" fill-opacity="0.8" stroke="#0000FF" stroke-opacity="0.8" stroke-width="2.95"/>
<circle cx="1564.4" cy="949.8" r="14.81" fill="#0000FF" fill-opacity="0.8" stroke="#0000FF" stroke-opacity="0.8" stroke-width="2.95"/>
<circle cx="1583.6" cy="1016.6" r="14.81" fill="#0000FF" fill-opacity="0.8" stroke="#0000FF" stroke-opacity="0.8" stroke-width="2.95"/>
<circle cx="1512.0" cy="1118.0" r="14.81" fill="#0000FF" fill-opacity="0.8" stroke="#0000FF" stroke-opacity="0.8" stroke-width="2.95"/>
<circle cx="1357.9" cy="837.0" r="14.81" fill="#0000FF" fill-opacity="0.8" stroke="#0000FF" stroke-opacity="0.8" stroke-width="2.95"/>
<circle cx="1349.1" cy="817.6" r="14.81" fill="#0000FF" fill-opacity="0.8" stroke="#0000FF" stroke-opacity="0.8" stroke-width="2.95"/>
<circle cx="1340.2" cy="858.7" r="14.81" fill="#0000FF" fill-opacity="0.8" stroke="#0000FF" stroke-opacity="0.8" stroke-width="2.95"/>
<circle cx="1330.3" cy="842.9" r="14.81" fill="#0000FF" fill-opacity="0.8" stroke="#0000FF" stroke-opacity="0.8" stroke-width="2.95"/>
<circle cx="1322.0" cy="847.0" r="14.81" fill="#0000FF" fill-opacity="0.8" stroke="#0000FF" stroke-opacity="0.8" stroke-width="2.95"/>
<circle cx="1332.3" cy="827.3" r="14.81" fill="#0000FF" fill-opacity="0.8" stroke="#0000FF" stroke-opacity="0.8" stroke-width="2.95"/>
<circle cx="1414.3" cy="831.8" r="14.81" fill="#0000FF" fill-opacity="0.8" stroke="#0000FF" stroke-opacity="0.8" stroke-width="2.95"/>
<circle cx="1449.2" cy="838.7" r="14.81" fill="#0000FF" fill-opacity="0.8" stroke="#0000FF" stroke-opacity="0.8" stroke-width="2.95"/>
<circle cx="1563.2" cy="895.0" r="14.81" fill="#0000FF" fill-opacity="0.8" stroke="#0000FF" stroke-opacity="0.8" stroke-width="2.95"/>
<circle cx="1592.5" cy="922.3" r="14.81" fill="#0000FF" fill-opacity="0.8" stroke="#0000FF" stroke-opacity="0.8" stroke-width="2.95"/>
<circle cx="1610.1" cy="926.2" r="14.81" fill="#0000FF" fill-opacity="0.8" stroke="#0000FF" stroke-opacity="0.8" stroke-width="2.95"/>
<circle cx="1649.1" cy="1024.2" r="14.81" fill="#0000FF" fill-opacity="0.8" stroke="#0000FF" stroke-opacity="0.8" stroke-width="2.95"/>
<circle cx="1691.2" cy="1058.7" r="14.81" fill="#0000FF" fill-opacity="0.8" stroke="#0000FF" stroke-opacity="0.8" stroke-width="2.95"/>
<circle cx="1692.5" cy="1025.8" r="14.81" fill="#0000FF" fill-opacity="0.8" stroke="#0000FF" stroke-opacity="0.8" stroke-width="2.95"/>
<circle cx="1683.9" cy="1127.3" r="14.81" fill="#0000FF" fill-opacity="0.8" stroke="#0000FF" stroke-opacity="0.8" stroke-width="2.95"/>
<circle cx="1665.9" cy="1106.1" r="14.81" fill="#0000FF" fill-opacity="0.8" stroke="#0000FF" stroke-opacity="0.8" stroke-width="2.95"/>
<circle cx="1749.5" cy="1228.9" r="14.81" fill="#0000FF" fill-opacity="0.8" stroke="#0000FF" stroke-opacity="0.8" stroke-width="2.95"/>
<circle cx="1840.3" cy="1236.4" r="14.81" fill="#0000FF" fill-opacity="0.8" stroke="#0000FF" stroke-opacity="0.8" stroke-width="2.95"/>
<path d="M1400.5,1802.3 L1417.0,1798.2 L1417.7,1783.4 L1311.4,1765.9 L1216.9,1746.3 L1146.0,1728.4 L1086.0,1705.0 L997.0,1689.1 L982.6,1665.3 L998.4,1642.1 L1036.8,1655.8 L1046.4,1676.8 L1069.7,1665.9 L1078.8,1672.3 L1090.7,1662.2 L1097.1,1674.1 L1083.4,1681.4 L1106.2,1679.6 L1115.4,1686.0 L1129.1,1682.3 L1143.7,1690.5 L1157.9,1680.5 L1143.2,1679.0 L1133.7,1670.4 L1115.4,1672.3 L1138.2,1663.1 L1145.6,1655.8 L1129.1,1651.2 L1046.4,1635.2 L1014.8,1630.2 L1001.1,1633.9 L992.0,1616.5 L972.5,1604.8 L913.8,1556.2 L866.8,1470.0 L805.4,1416.2 L753.5,1327.6 L739.4,1273.5 L719.2,1235.2 L719.1,1312.4 L729.8,1384.3 L756.0,1329.2 L805.4,1416.2 L838.7,1504.2" fill="none" stroke="#006400" stroke-opacity="0.8" stroke-width="8.89" stroke-linejoin="round" stroke-linecap="butt"/>
<circle cx="1400.5" cy="1802.3" r="14.81" fill="#006400" fill-opacity="0.8" stroke="#006400" stroke-opacity="0.8" stroke-width="2.95"/>
<circle cx="1417.0" cy="1798.2" r="14.81" fill="#006400" fill-opacity="0.8" stroke="#006400" stroke-opacity="0.8" stroke-width="2.95"/>
<circle cx="1417.7" cy="1783.4" r="14.81" fill="#006400" fill-opacity="0.8" stroke="#006400" stroke-opacity="0.8" stroke-width="2.95"/>
<circle cx="1311.4" cy="1765.9" r="14.81" fill="#006400" fill-opacity="0.8" stroke="#006400" stroke-opacity="0.8" stroke-width="2.95"/>
<circle cx="1216.9" cy="1746.3" r="14.81" fill="#006400" fill-opacity="0.8" stroke="#006400" stroke-opacity="0.8" stroke-width="2.95"/>
<circle cx="1146.0" cy="1728.4" r="14.81" fill="#006400" fill-opacity="0.8" stroke="#006400" stroke-opacity="0.8" stroke-width="2.95"/>
<circle cx="1086.0" cy="1705.0" r="14.81" fill="#006400" fill-opacity="0.8" stroke="#006400" stroke-opacity="0.8" stroke-width="2.95"/>
<circle cx="997.0" cy="1689.1" r="14.81" fill="#006400" fill-opacity="0.8" stroke="#006400" stroke-opacity="0.8" stroke-width="2.95"/>
<circle cx="982.6" cy="1665.3" r="14.81" fill="#006400" fill-opacity="0.8" stroke="#006400" stroke-opacity="0.8" stroke-width="2.95"/>
<circle cx="998.4" cy="1642.1" r="14.81" fill="#006400" fill-opacity="0.8" stroke="#006400" stroke-opacity="0.8" stroke-width="2.95"/>
<circle cx="1036.8" cy="1655.8" r="14.81" fill="#006400" fill-opacity="0.8" stroke="#006400" stroke-opacity="0.8" stroke-width="2.95"/>
<circle cx="1046.4" cy="1676.8" r="14.81" fill="#006400" fill-opacity="0.8" stroke="#006400" stroke-opacity="0.8" stroke-width="2.95"/>
<circle cx="1069.7" cy="1665.9" r="14.81" fill="#006400" fill-opacity="0.8" stroke="#006400" stroke-opacity="0.8" stroke-width="2.95"/>
<circle cx="1078.8" cy="1672.3" r="14.81" fill="#006400" fill-opacity="0.8" stroke="#006400" stroke-opacity="0.8" stroke-width="2.95"/>
<circle cx="1090.7" cy="1662.2" r="14.81" fill="#006400" fill-opacity="0.8" stroke="#006400" stroke-opacity="0.8" stroke-width="2.95"/>
<circle cx="1097.1" cy="1674.1" r="14.81" fill="#006400" fill-opacity="0.8" stroke="#006400" stroke-opacity="0.8" stroke-width="2.95"/>
<circle cx="1083.4" cy="1681.4" r="14.81" fill="#006400" fill-opacity="0.8" stroke="#006400" stroke-opacity="0.8" stroke-width="2.95"/>
<circle cx="1106.2" cy="1679.6" r="14.81" fill="#006400" fill-opacity="0.8" stroke="#006400" stroke-opacity="0.8" stroke-width="2.95"/>
<circle cx="1115.4" cy="1686.0" r="14.81" fill="#006400" fill-opacity="0.8" stroke="#006400" stroke-opacity="0.8" stroke-width="2.95"/>
<circle cx="1129.1" cy="1682.3" r="14.81" fill="#006400" fill-opacity="0.8" stroke="#006400" stroke-opacity="0.8" stroke-width="2.95"/>
<circle cx="1143.7" cy="1690.5" r="14.81" fill="#006400" fill-opacity="0.8" stroke="#006400" stroke-opacity="0.8" stroke-width="2.95"/>
<circle cx="1157.9" cy="1680.5" r="14.81" fill="#006400" fill-opacity="0.8" stroke="#006400" stroke-opacity="0.8" stroke-width="2.95"/>
<circle cx="1143.2" cy="1679.0" r="14.81" fill="#006400" fill-opacity="0.8" stroke="#006400" stroke-opacity="0.8" stroke-width="2.95"/>
<circle cx="1133.7" cy="1670.4" r="14.81" fill="#006400" fill-opacity="0.8" stroke="#006400" stroke-opacity="0.8" stroke-width="2.95"/>
<circle cx="1115.4" cy="1672.3" r="14.81" fill="#006400" fill-opacity="0.8" stroke="#006400" stroke-opacity="0.8" stroke-width="2.95"/>
<circle cx="1138.2" cy="1663.1" r="14.81" fill="#006400" fill-opacity="0.8" stroke="#006400" stroke-opacity="0.8" stroke-width="2.95"/>
<circle cx="1145.6" cy="1655.8" r="14.81" fill="#006400" fill-opacity="0.8" stroke="#006400" stroke-opacity="0.8" stroke-width="2.95"/>
<circle cx="1129.1" cy="1651.2" r="14.81" fill="#006400" fill-opacity="0.8" stroke="#006400" stroke-opacity="0.8" stroke-width="2.95"/>
<circle cx="1046.4" cy="1635.2" r="14.81" fill="#006400" fill-opacity="0.8" stroke="#006400" stroke-opacity="0.8" stroke-width="2.95"/>
<circle cx="1014.8" cy="1630.2" r="14.81" fill="#006400" fill-opacity="0.8" stroke="#006400" stroke-opacity="0.8" stroke-width="2.95"/>
<circle cx="1001.1" cy="1633.9" r="14.81" fill="#006400" fill-opacity="0.8" stroke="#006400" stroke-opacity="0.8" stroke-width="2.95"/>
<circle cx="992.0" cy="1616.5" r="14.81" fill="#006400" fill-opacity="0.8" stroke="#006400" stroke-opacity="0.8" stroke-width="2.95"/>
<circle cx="972.5" cy="1604.8" r="14.81" fill="#006400" fill-opacity="0.8" stroke="#006400" stroke-opacity="0.8" stroke-width="2.95"/>
<circle cx="913.8" cy="1556.2" r="14.81" fill="#006400" fill-opacity="0.8" stroke="#006400" stroke-opacity="0.8" stroke-width="2.95"/>
<circle cx="866.8" cy="1470.0" r="14.81" fill="#006400" fill-opacity="0.8" stroke="#006400" stroke-opacity="0.8" stroke-width="2.95"/>
<circle cx="805.4" cy="1416.2" r="14.81" fill="#006400" fill-opacity="0.8" stroke="#006400" stroke-opacity="0.8" stroke-width="2.95"/>
<circle cx="753.5" cy="1327.6" r="14.81" fill="#006400" fill-opacity="0.8" stroke="#006400" stroke-opacity="0.8" stroke-width="2.95"/>
<circle cx="739.4" cy="1273.5" r="14.81" fill="#006400" fill-opacity="0.8" stroke="#006400" stroke-opacity="0.8" stroke-width="2.95"/>
<circle cx="719.2" cy="1235.2" r="14.81" fill="#006400" fill-opacity="0.8" stroke="#006400" stroke-opacity="0.8" stroke-width="2.95"/>
<circle cx="719.1" cy="1312.4" r="14.81" fill="#006400" fill-opacity="0.8" stroke="#006400" stroke-opacity="0.8" stroke-width="2.95"/>
<circle cx="729.8" cy="1384.3" r="14.81" fill="#006400" fill-opacity="0.8" stroke="#006400" stroke-opacity="0.8" stroke-width="2.95"/>
<circle cx="756.0" cy="1329.2" r="14.81" fill="#006400" fill-opacity="0.8" stroke="#006400" stroke-opacity="0.8" stroke-width="2.95"/>
<circle cx="838.7" cy="1504.2" r="14.81" fill="#006400" fill-opacity="0.8" stroke="#006400" stroke-opacity="0.8" stroke-width="2.95"/>
<path d="M3114.9,1783.9 L3074.0,1765.2 L2934.0,1753.5 L2815.1,1738.9 L2767.5,1741.5 L2707.2,1737.0 L2689.2,1746.3 L2645.1,1745.2 L2659.9,1728.5 L2616.0,1713.0 L2680.0,1690.8 L2580.6,1690.4 L2455.4,1657.2 L2374.9,1648.5 L2282.5,1632.0 L2209.7,1592.4 L2180.0,1580.5 L2181.2,1565.7 L2108.0,1550.8 L2020.5,1586.3 L1974.1,1608.4 L1946.2,1619.4 L1900.5,1637.2 L1896.7,1620.5 L1947.8,1601.1 L1858.7,1593.8 L1817.1,1567.5 L1791.1,1541.3 L1761.1,1539.6 L1753.8,1530.5 L1744.6,1523.1 L1724.5,1527.7 L1742.8,1508.5 L1748.3,1499.4 L1739.2,1486.6 L1735.5,1472.0 L1720.9,1470.1 L1750.1,1447.8 L1724.5,1453.7 L1717.2,1460.1 L1679.7,1456.4 L1661.5,1416.2 L1669.7,1394.3 L1640.4,1384.2 L1613.0,1350.4 L1605.7,1346.7 L1592.9,1325.7 L1591.4,1317.7 L1559.6,1285.5 L1523.0,1274.1 L1513.9,1233.9 L1511.1,1226.6 L1506.0,1218.0 L1501.5,1221.7 L1507.5,1258.6 L1454.9,1187.5 L1411.5,1168.3 L1345.2,1133.0 L1373.5,1112.9 L1339.7,1136.1 L1269.9,1142.2 L1261.1,1191.0 L1300.4,1218.4 L1331.8,1292.4 L1454.5,1351.1 L1616.7,1393.3 L1627.6,1431.7 L1698.9,1424.4 L1710.8,1426.3 L1608.4,1348.7 L1595.6,1326.8 L1615.0,1313.4 L1616.0,1268.8 L1529.4,1255.8 L1544.2,1247.2 L1521.2,1254.0 L1509.7,1226.3 L1500.2,1222.0 L1513.4,1235.4 L1522.5,1255.5" fill="none" stroke="#FFD700" stroke-opacity="0.8" stroke-width="8.89" stroke-linejoin="round" stroke-linecap="butt"/>
<circle cx="3114.9" cy="1783.9" r="14.81" fill="#FFD700" fill-opacity="0.8" stroke="#FFD700" stroke-opacity="0.8" stroke-width="2.95"/>
<circle cx="3074.0" cy="1765.2" r="14.81" fill="#FFD700" fill-opacity="0.8" stroke="#FFD700" stroke-opacity="0.8" stroke-width="2.95"/>
<circle cx="2934.0" cy="1753.5" r="14.81" fill="#FFD700" fill-opacity="0.8" stroke="#FFD700" stroke-opacity="0.8" stroke-width="2.95"/>
<circle cx="2815.1" cy="1738.9" r="14.81" fill="#FFD700" fill-opacity="0.8" stroke="#FFD700" stroke-opacity="0.8" stroke-width="2.95"/>
<circle cx="2767.5" cy="1741.5" r="14.81" fill="#FFD700" fill-opacity="0.8" stroke="#FFD700" stroke-opacity="0.8" stroke-width="2.95"/>
<circle cx="2707.2" cy="1737.0" r="14.81" fill="#FFD700" fill-opacity="0.8" stroke="#FFD700" stroke-opacity="0.8" stroke-width="2.95"/>
<circle cx="2689.2" cy="1746.3" r="14.81" fill="#FFD700" fill-opacity="0.8" stroke="#FFD700" stroke-opacity="0.8" stroke-width="2.95"/>
<circle cx="2645.1" cy="1745.2" r="14.81" fill="#FFD700" fill-opacity="0.8" stroke="#FFD700" stroke-opacity="0.8" stroke-width="2.95"/>
<circle cx="2659.9" cy="1728.5" r="14.81" fill="#FFD700" fill-opacity="0.8" stroke="#FFD700" stroke-opacity="0.8" stroke-width="2.95"/>
<circle cx="2616.0" cy="1713.0" r="14.81" fill="#FFD700" fill-opacity="0.8" stroke="#FFD700" stroke-opacity="0.8" stroke-width="2.95"/>
<circle cx="2680.0" cy="1690.8" r="14.81" fill="#FFD700" fill-opacity="0.8" stroke="#FFD700" stroke-opacity="0.8" stroke-width="2.95"/>
<circle cx="2580.6" cy="1690.4" r="14.81" fill="#FFD700" fill-opacity="0.8" stroke="#FFD700" stroke-opacity="0.8" stroke-width="2.95"/>
<circle cx="2455.4" cy="1657.2" r="14.81" fill="#FFD700" fill-opacity="0.8" stroke="#FFD700" stroke-opacity="0.8" stroke-width="2.95"/>
<circle cx="2374.9" cy="1648.5" r="14.81" fill="#FFD700" fill-opacity="0.8" stroke="#FFD700" stroke-opacity="0.8" stroke-width="2.95"/>
<circle cx="2282.5" cy="1632.0" r="14.81" fill="#FFD700" fill-opacity="0.8" stroke="#FFD700" stroke-opacity="0.8" stroke-width="2.95"/>
<circle cx="2209.7" cy="1592.4" r="14.81" fill="#FFD700" fill-opacity="0.8" stroke="#FFD700" stroke-opacity="0.8" stroke-width="2.95"/>
<circle cx="2180.0" cy="1580.5" r="14.81" fill="#FFD700" fill-opacity="0.8" stroke="#FFD700" stroke-opacity="0.8" stroke-width="2.95"/>
<circle cx="2181.2" cy="1565.7" r="14.81" fill="#FFD700" fill-opacity="0.8" stroke="#FFD700" stroke-opacity="0.8" stroke-width="2.95"/>
<circle cx="2108.0" cy="1550.8" r="14.81" fill="#FFD700" fill-opacity="0.8" stroke="#FFD700" stroke-opacity="0.8" stroke-width="2.95"/>
<circle cx="2020.5" cy="1586.3" r="14.81" fill="#FFD700" fill-opacity="0.8" stroke="#FFD700" stroke-opacity="0.8" stroke-width="2.95"/>
<circle cx="1974.1" cy="1608.4" r="14.81" fill="#FFD700" fill-opacity="0.8" stroke="#FFD700" stroke-opacity="0.8" stroke-width="2.95"/>
<circle cx="1946.2" cy="1619.4" r="14.81" fill="#FFD700" fill-opacity="0.8" stroke="#FFD700" stroke-opacity="0.8" stroke-width="2.95"/>
<circle cx="1900.5" cy="1637.2" r="14.81" fill="#FFD700" fill-opacity="0.8" stroke="#FFD700" stroke-opacity="0.8" stroke-width="2.95"/>
<circle cx="1896.7" cy="1620.5" r="14.81" fill="#FFD700" fill-opacity="0.8" stroke="#FFD700" stroke-opacity="0.8" stroke-width="2.95"/>
<circle cx="1947.8" cy="1601.1" r="14.81" fill="#FFD700" fill-opacity="0.8" stroke="#FFD700" stroke-opacity="0.8" stroke-width="2.95"/>
<circle cx="1858.7" cy="1593.8" r="14.81" fill="#FFD700" fill-opacity="0.8" stroke="#FFD700" stroke-opacity="0.8" stroke-width="2.95"/>
<circle cx="1817.1" cy="1567.5" r="14.81" fill="#FFD700" fill-opacity="0.8" stroke="#FFD700" stroke-opacity="0.8" stroke-width="2.95"/>
<circle cx="1791.1" cy="1541.3" r="14.81" fill="#FFD700" fill-opacity="0.8" stroke="#FFD700" stroke-opacity="0.8" stroke-width="2.95"/>
<circle cx="1761.1" cy="1539.6" r="14.81" fill="#FFD700" fill-opacity="0.8" stroke="#FFD700" stroke-opacity="0.8" stroke-width="2.95"/>
<circle cx="1753.8" cy="1530.5" r="14.81" fill="#FFD700" fill-opacity="0.8" stroke="#FFD700" stroke-opacity="0.8" stroke-width="2.95"/>
<circle cx="1744.6" cy="1523.1" r="14.81" fill="#FFD700" fill-opacity="0.8" stroke="#FFD700" stroke-opacity="0.8" stroke-width="2.95"/>
<circle cx="1724.5" cy="1527.7" r="14.81" fill="#FFD700" fill-opacity="0.8" stroke="#FFD700" stroke-opacity="0.8" stroke-width="2.95"/>
<circle cx="1742.8" cy="1508.5" r="14.81" fill="#FFD700" fill-opacity="0.8" stroke="#FFD700" stroke-opacity="0.8" stroke-width="2.95"/>
<circle cx="1748.3" cy="1499.4" r="14.81" fill="#FFD700" fill-opacity="0.8" stroke="#FFD700" stroke-opacity="0.8" stroke-width="2.95"/>
<circle cx="1739.2" cy="1486.6" r="14.81" fill="#FFD700" fill-opacity="0.8" stroke="#FFD700" stroke-opacity="0.8" stroke-width="2.95"/>
<circle cx="1735.5" cy="1472.0" r="14.81" fill="#FFD700" fill-opacity="0.8" stroke="#FFD700" stroke-opacity="0.8" stroke-width="2.95"/>
<circle cx="1720.9" cy="1470.1" r="14.81" fill="#FFD700" fill-opacity="0.8" stroke="#FFD700" stroke-opacity="0.8" stroke-width="2.95"/>
<circle cx="1750.1" cy="1447.8" r="14.81" fill="#FFD700" fill-opacity="0.8" stroke="#FFD700" stroke-opacity="0.8" stroke-width="2.95"/>
<circle cx="1724.5" cy="1453.7" r="14.81" fill="#FFD700" fill-opacity="0.8" stroke="#FFD700" stroke-opacity="0.8" stroke-width="2.95"/>
<circle cx="1717.2" cy="1460.1" r="14.81" fill="#FFD700" fill-opacity="0.8" stroke="#FFD700" stroke-opacity="0.8" stroke-width="2.95"/>
<circle cx="1679.7" cy="1456.4" r="14.81" fill="#FFD700" fill-opacity="0.8" stroke="#FFD700" stroke-opacity="0.8" stroke-width="2.95"/>
<circle cx="1661.5" cy="1416.2" r="14.81" fill="#FFD700" fill-opacity="0.8" stroke="#FFD700" stroke-opacity="0.8" stroke-width="2.95"/>
<circle cx="1669.7" cy="1394.3" r="14.81" fill="#FFD700" fill-opacity="0.8" stroke="#FFD700" stroke-opacity="0.8" stroke-width="2.95"/>
<circle cx="1640.4" cy="1384.2" r="14.81" fill="#FFD700" fill-opacity="0.8" stroke="#FFD700" stroke-opacity="0.8" stroke-width="2.95"/>
<circle cx="1613.0" cy="1350.4" r="14.81" fill="#FFD700" fill-opacity="0.8" stroke="#FFD700" stroke-opacity="0.8" stroke-width="2.95"/>
<circle cx="1605.7" cy="1346.7" r="14.81" fill="#FFD700" fill-opacity="0.8" stroke="#FFD700" stroke-opacity="0.8" stroke-width="2.95"/>
<circle cx="1592.9" cy="1325.7" r="14.81" fill="#FFD700" fill-opacity="0.8" stroke="#FFD700" stroke-opacity="0.8" stroke-width="2.95"/>
<circle cx="1591.4" cy="1317.7" r="14.81" fill="#FFD700" fill-opacity="0.8" stroke="#FFD700" stroke-opacity="0.8" stroke-width="2.95"/>
<circle cx="1559.6" cy="1285.5" r="14.81" fill="#FFD700" fill-opacity="0.8" stroke="#FFD700" stroke-opacity="0.8" stroke-width="2.95"/>
<circle cx="1523.0" cy="1274.1" r="14.81" fill="#FFD700" fill-opacity="0.8" stroke="#FFD700" stroke-opacity="0.8" stroke-width="2.95"/>
<circle cx="1513.9" cy="1233.9" r="14.81" fill="#FFD700" fill-opacity="0.8" stroke="#FFD700" stroke-opacity="0.8" stroke-width="2.95"/>
<circle cx="1511.1" cy="1226.6" r="14.81" fill="#FFD700" fill-opacity="0.8" stroke="#FFD700" stroke-opacity="0.8" stroke-width="2.95"/>
<circle cx="1506.0" cy="1218.0" r="14.81" fill="#FFD700" fill-opacity="0.8" stroke="#FFD700" stroke-opacity="0.8" stroke-width="2.95"/>
<circle cx="1501.5" cy="1221.7" r="14.81" fill="#FFD700" fill-opacity="0.8" stroke="#FFD700" stroke-opacity="0.8" stroke-width="2.95"/>
<circle cx="1507.5" cy="1258.6" r="14.81" fill="#FFD700" fill-opacity="0.8" stroke="#FFD700" stroke-opacity="0.8" stroke-width="2.95"/>
<circle cx="1454.9" cy="1187.5" r="14.81" fill="#FFD700" fill-opacity="0.8" stroke="#FFD700" stroke-opacity="0.8" stroke-width="2.95"/>
<circle cx="1411.5" cy="1168.3" r="14.81" fill="#FFD700" fill-opacity="0.8" stroke="#FFD700" stroke-opacity="0.8" stroke-width="2.95"/>
<circle cx="1345.2" cy="1133.0" r="14.81" fill="#FFD700" fill-opacity="0.8" stroke="#FFD700" stroke-opacity="0.8" stroke-width="2.95"/>
<circle cx="1373.5" cy="1112.9" r="14.81" fill="#FFD700" fill-opacity="0.8" stroke="#FFD700" stroke-opacity="0.8" stroke-width="2.95"/>
<circle cx="1339.7" cy="1136.1" r="14.81" fill="#FFD700" fill-opacity="0.8" stroke="#FFD700" stroke-opacity="0.8" stroke-width="2.95"/>
<circle cx="1269.9" cy="1142.2" r="14.81" fill="#FFD700" fill-opacity="0.8" stroke="#FFD700" stroke-opacity="0.8" stroke-width="2.95"/>
<circle cx="1261.1" cy="1191.0" r="14.81" fill="#FFD700" fill-opacity="0.8" stroke="#FFD700" stroke-opacity="0.8" stroke-width="2.95"/>
<circle cx="1300.4" cy="1218.4" r="14.81" fill="#FFD700" fill-opacity="0.8" stroke="#FFD700" stroke-opacity="0.8" stroke-width="2.95"/>
<circle cx="1331.8" cy="1292.4" r="14.81" fill="#FFD700" fill-opacity="0.8" stroke="#FFD700" stroke-opacity="0.8" stroke-width="2.95"/>
<circle cx="1454.5" cy="1351.1" r="14.81" fill="#FFD700" fill-opacity="0.8" stroke="#FFD700" stroke-opacity="0.8" stroke-width="2.95"/>
<circle cx="1616.7" cy="1393.3" r="14.81" fill="#FFD700" fill-opacity="0.8" stroke="#FFD700" stroke-opacity="0.8" stroke-width="2.95"/>
<circle cx="1627.6" cy="1431.7" r="14.81" fill="#FFD700" fill-opacity="0.8" stroke="#FFD700" stroke-opacity="0.8" stroke-width="2.95"/>
<circle cx="1698.9" cy="1424.4" r="14.81" fill="#FFD700" fill-opacity="0.8" stroke="#FFD700" stroke-opacity="0.8" stroke-width="2.95"/>
<circle cx="1710.8" cy="1426.3" r="14.81" fill="#FFD700" fill-opacity="0.8" stroke="#FFD700" stroke-opacity="0.8" stroke-width="2.95"/>
<circle cx="1608.4" cy="1348.7" r="14.81" fill="#FFD700" fill-opacity="0.8" stroke="#FFD700" stroke-opacity="0.8" stroke-width="2.95"/>
<circle cx="1595.6" cy="1326.8" r="14.81" fill="#FFD700" fill-opacity="0.8" stroke="#FFD700" stroke-opacity="0.8" stroke-width="2.95"/>
<circle cx="1615.0" cy="1313.4" r="14.81" fill="#FFD700" fill-opacity="0.8" stroke="#FFD700" stroke-opacity="0.8" stroke-width="2.95"/>
<circle cx="1616.0" cy="1268.8" r="14.81" fill="#FFD700" fill-opacity="0.8" stroke="#FFD700" stroke-opacity="0.8" stroke-width="2.95"/>
<circle cx="1529.4" cy="1255.8" r="14.81" fill="#FFD700" fill-opacity="0.8" stroke="#FFD700" stroke-opacity="0.8" stroke-width="2.95"/>
<circle cx="1544.2" cy="1247.2" r="14.81" fill="#FFD700" fill-opacity="0.8" stroke="#FFD700" stroke-opacity="0.8" stroke-width="2.95"/>
<circle cx="1521.2" cy="1254.0" r="14.81" fill="#FFD700" fill-opacity="0.8" stroke="#FFD700" stroke-opacity="0.8" stroke-width="2.95"/>
<circle cx="1509.7" cy="1226.3" r="14.81" fill="#FFD700" fill-opacity="0.8" stroke="#FFD700" stroke-opacity="0.8" stroke-width="2.95"/>
<circle cx="1500.2" cy="1222.0" r="14.81" fill="#FFD700" fill-opacity="0.8" stroke="#FFD700" stroke-opacity="0.8" stroke-width="2.95"/>
<circle cx="1513.4" cy="1235.4" r="14.81" fill="#FFD700" fill-opacity="0.8" stroke="#FFD700" stroke-opacity="0.8" stroke-width="2.95"/>
<circle cx="1522.5" cy="1255.5" r="14.81" fill="#FFD700" fill-opacity="0.8" stroke="#FFD700" stroke-opacity="0.8" stroke-width="2.95"/>
<path d="M1334.4,282.0 L1290.5,385.0" stroke="#000" stroke-opacity="0.5" stroke-width="4.44" stroke-dasharray="4.9 12.86" stroke-linecap="round" fill="none"/>
<path d="M1057.7,1027.5 L1266.7,1140.0" stroke="#000" stroke-opacity="0.5" stroke-width="4.44" stroke-dasharray="4.9 12.86" stroke-linecap="round" fill="none"/>
<path d="M2050.9,1122.5 L1843.4,1233.4" stroke="#000" stroke-opacity="1" stroke-width="4.44" stroke-dasharray="4.9 12.86" stroke-linecap="round" fill="none"/>
<path d="M931.3,1368.7 L735.9,1316.2" stroke="#000" stroke-opacity="0.5" stroke-width="4.44" stroke-dasharray="4.9 12.86" stroke-linecap="round" fill="none"/>
<path d="M1481.7,1602.1 L1407.4,1786.8" stroke="#000" stroke-opacity="0.5" stroke-width="4.44" stroke-dasharray="4.9 12.86" stroke-linecap="round" fill="none"/>
<path d="M416.8,1705.7 L475.8,1774.0" stroke="#000" stroke-opacity="0.5" stroke-width="4.44" stroke-dasharray="4.9 12.86" stroke-linecap="round" fill="none"/>
<path d="M3114.9,1584.4 L3114.9,1780.5" stroke="#000" stroke-opacity="0.5" stroke-width="4.44" stroke-dasharray="4.9 12.86" stroke-linecap="round" fill="none"/>
<rect x="1335.4" y="237.6" width="237.2" height="71.3" rx="9" ry="9" fill="#fff" fill-opacity="0.5" stroke="#000" stroke-opacity="0.5" stroke-width="2"/>
<text class="lab" transform="translate(1454.0,294.4) scale(1,1.045)" text-anchor="middle" fill="#000" fill-opacity="0.5">2022N2</text>
<rect x="821.4" y="989.0" width="236.8" height="70.4" rx="9" ry="9" fill="#fff" fill-opacity="0.5" stroke="#000" stroke-opacity="0.5" stroke-width="2"/>
<text class="lab" transform="translate(939.8,1045.1) scale(1,1.045)" text-anchor="middle" fill="#000" fill-opacity="0.5">2008N1</text>
<rect x="2051.9" y="1082.9" width="236.8" height="70.6" rx="9" ry="9" fill="#fff" fill-opacity="1" stroke="#000" stroke-opacity="1" stroke-width="2"/>
<text class="lab" transform="translate(2170.3,1139.2) scale(1,1.045)" text-anchor="middle" fill="#000" fill-opacity="1">2025N3</text>
<rect x="930.7" y="1336.1" width="236.8" height="70.7" rx="9" ry="9" fill="#fff" fill-opacity="0.5" stroke="#000" stroke-opacity="0.5" stroke-width="2"/>
<text class="lab" transform="translate(1049.1,1392.9) scale(1,1.045)" text-anchor="middle" fill="#000" fill-opacity="0.5">1990N1</text>
<rect x="1365.7" y="1530.7" width="236.5" height="70.4" rx="9" ry="9" fill="#fff" fill-opacity="0.5" stroke="#000" stroke-opacity="0.5" stroke-width="2"/>
<text class="lab" transform="translate(1484.0,1587.3) scale(1,1.045)" text-anchor="middle" fill="#000" fill-opacity="0.5">1978N1</text>
<rect x="286.9" y="1634.0" width="236.3" height="70.7" rx="9" ry="9" fill="#fff" fill-opacity="0.5" stroke="#000" stroke-opacity="0.5" stroke-width="2"/>
<text class="lab" transform="translate(405.1,1689.7) scale(1,1.045)" text-anchor="middle" fill="#000" fill-opacity="0.5">1964N1</text>
<rect x="2996.7" y="1512.5" width="236.8" height="70.9" rx="9" ry="9" fill="#fff" fill-opacity="0.5" stroke="#000" stroke-opacity="0.5" stroke-width="2"/>
<text class="lab" transform="translate(3115.1,1569.1) scale(1,1.045)" text-anchor="middle" fill="#000" fill-opacity="0.5">1994N1</text>
<rect x="221.1" y="22.92" width="3055.98" height="1889.88" fill="none" stroke="#333333" stroke-width="4.44"/>
</g>
<path d="M221.10,1912.8 v11.46 M551.48,1912.8 v11.46 M881.85,1912.8 v11.46 M1212.23,1912.8 v11.46 M1542.60,1912.8 v11.46 M1872.98,1912.8 v11.46 M2203.36,1912.8 v11.46 M2533.73,1912.8 v11.46 M2864.11,1912.8 v11.46 M3194.49,1912.8 v11.46 M221.1,1912.80 h-11.46 M221.1,1322.21 h-11.46 M221.1,731.62 h-11.46 M221.1,141.04 h-11.46" stroke="#333333" stroke-width="4.44" fill="none"/>
<text class="tick" transform="translate(221.1,1981.7) scale(1,1.045)" text-anchor="middle">0%</text>
<text class="tick" transform="translate(551.5,1981.7) scale(1,1.045)" text-anchor="middle">2%</text>
<text class="tick" transform="translate(881.9,1981.7) scale(1,1.045)" text-anchor="middle">4%</text>
<text class="tick" transform="translate(1212.2,1981.7) scale(1,1.045)" text-anchor="middle">6%</text>
<text class="tick" transform="translate(1542.6,1981.7) scale(1,1.045)" text-anchor="middle">8%</text>
<text class="tick" transform="translate(1873.0,1981.7) scale(1,1.045)" text-anchor="middle">10%</text>
<text class="tick" transform="translate(2203.4,1981.7) scale(1,1.045)" text-anchor="middle">12%</text>
<text class="tick" transform="translate(2533.7,1981.7) scale(1,1.045)" text-anchor="middle">14%</text>
<text class="tick" transform="translate(2864.1,1981.7) scale(1,1.045)" text-anchor="middle">16%</text>
<text class="tick" transform="translate(3194.5,1981.7) scale(1,1.045)" text-anchor="middle">18%</text>
<text class="tick" transform="translate(198.5,1936.8) scale(1,1.045)" text-anchor="end">0%</text>
<text class="tick" transform="translate(198.5,1346.2) scale(1,1.045)" text-anchor="end">1%</text>
<text class="tick" transform="translate(198.5,755.6) scale(1,1.045)" text-anchor="end">2%</text>
<text class="tick" transform="translate(198.5,165.0) scale(1,1.045)" text-anchor="end">3%</text>
<text class="title" transform="translate(1749.1,2061.3) scale(1,1.045)" text-anchor="middle">Työttömyysaste</text>
<text class="title" transform="translate(77.1,967.9) rotate(-90) scale(1,1.045)" text-anchor="middle">Vakanssiaste</text>
</svg></body></html>
